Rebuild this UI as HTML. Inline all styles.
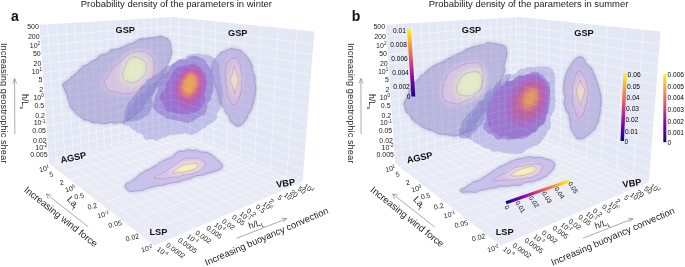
<!DOCTYPE html>
<html><head><meta charset="utf-8"><style>
html,body{margin:0;padding:0;background:#fff;width:685px;height:267px;overflow:hidden}
svg{display:block;font-family:"Liberation Sans",sans-serif;will-change:transform}
</style></head><body>
<svg width="685" height="267" viewBox="0 0 685 267">
<defs><filter id="bl05" x="-10%" y="-10%" width="120%" height="120%"><feGaussianBlur stdDeviation="0.45"/></filter><filter id="fb6" x="-40%" y="-40%" width="180%" height="180%"><feGaussianBlur stdDeviation="0.6"/></filter><filter id="fb10" x="-40%" y="-40%" width="180%" height="180%"><feGaussianBlur stdDeviation="1.0"/></filter><filter id="fb12" x="-40%" y="-40%" width="180%" height="180%"><feGaussianBlur stdDeviation="1.2"/></filter><filter id="fb16" x="-40%" y="-40%" width="180%" height="180%"><feGaussianBlur stdDeviation="1.6"/></filter><filter id="fb20" x="-40%" y="-40%" width="180%" height="180%"><feGaussianBlur stdDeviation="2.0"/></filter><filter id="fb22" x="-40%" y="-40%" width="180%" height="180%"><feGaussianBlur stdDeviation="2.2"/></filter><filter id="fb25" x="-40%" y="-40%" width="180%" height="180%"><feGaussianBlur stdDeviation="2.5"/></filter><filter id="fb30" x="-40%" y="-40%" width="180%" height="180%"><feGaussianBlur stdDeviation="3.0"/></filter><filter id="bl1" x="-30%" y="-30%" width="160%" height="160%"><feGaussianBlur stdDeviation="1.2"/></filter><radialGradient id="gA" cx="0.55" cy="0.45" r="0.55"><stop offset="0" stop-color="#eaa04e"/><stop offset="0.25" stop-color="#e08a5e"/><stop offset="0.45" stop-color="#c862a8"/><stop offset="0.7" stop-color="#a974cc"/><stop offset="1" stop-color="#9f8ad8"/></radialGradient><radialGradient id="gB" cx="0.6" cy="0.5" r="0.55"><stop offset="0" stop-color="#e99a52"/><stop offset="0.25" stop-color="#dc8068"/><stop offset="0.45" stop-color="#c762aa"/><stop offset="0.7" stop-color="#a875cc"/><stop offset="1" stop-color="#9f8cd8"/></radialGradient><linearGradient id="cbv" x1="0" y1="1" x2="0" y2="0"><stop offset="0.000" stop-color="#0d0887"/><stop offset="0.111" stop-color="#46039f"/><stop offset="0.222" stop-color="#7201a8"/><stop offset="0.333" stop-color="#9c179e"/><stop offset="0.444" stop-color="#bd3786"/><stop offset="0.556" stop-color="#d8576b"/><stop offset="0.667" stop-color="#ed7953"/><stop offset="0.778" stop-color="#fb9f3a"/><stop offset="0.889" stop-color="#fdca26"/><stop offset="1.000" stop-color="#f0f921"/></linearGradient><linearGradient id="cbh" x1="0" y1="0" x2="1" y2="0"><stop offset="0.000" stop-color="#0d0887"/><stop offset="0.111" stop-color="#46039f"/><stop offset="0.222" stop-color="#7201a8"/><stop offset="0.333" stop-color="#9c179e"/><stop offset="0.444" stop-color="#bd3786"/><stop offset="0.556" stop-color="#d8576b"/><stop offset="0.667" stop-color="#ed7953"/><stop offset="0.778" stop-color="#fb9f3a"/><stop offset="0.889" stop-color="#fdca26"/><stop offset="1.000" stop-color="#f0f921"/></linearGradient><clipPath id="cl1"><path d="M63.0,84.2 L63.9,83.6 L64.5,82.7 L65.8,82.2 L66.8,81.3 L67.9,80.2 L69.3,79.3 L70.6,78.3 L71.1,77.1 L72.2,76.5 L73.3,75.8 L74.4,75.1 L75.2,74.0 L76.3,73.2 L77.2,72.1 L78.4,71.4 L79.0,70.0 L80.1,69.2 L81.2,68.5 L81.9,67.4 L82.7,66.4 L84.1,66.1 L85.1,65.5 L86.4,65.1 L87.5,64.6 L88.5,64.0 L89.5,63.2 L90.4,62.2 L91.4,61.4 L92.6,60.7 L93.8,60.5 L94.8,59.9 L96.0,59.7 L96.7,58.5 L97.7,57.7 L98.6,56.7 L99.5,55.9 L100.5,55.1 L101.7,54.7 L103.1,54.6 L104.3,54.3 L105.7,54.3 L106.7,53.7 L107.6,52.8 L108.7,52.1 L109.8,51.4 L110.7,50.2 L111.9,49.7 L113.2,49.8 L114.4,49.3 L115.5,48.9 L116.9,48.9 L118.1,48.9 L119.3,48.4 L120.4,48.0 L121.4,47.4 L122.5,46.9 L123.8,46.5 L125.1,46.1 L126.1,45.2 L127.3,45.0 L128.5,44.5 L129.6,43.8 L130.8,43.5 L132.1,43.4 L133.4,43.1 L134.4,42.1 L135.7,41.5 L136.7,40.9 L137.8,40.2 L138.8,39.3 L140.1,39.3 L141.3,38.9 L142.6,38.4 L143.9,38.5 L145.4,38.9 L146.6,38.5 L147.8,38.1 L149.1,38.0 L150.3,37.9 L151.4,37.4 L152.5,37.6 L154.0,37.7 L155.5,37.4 L156.9,36.7 L158.4,36.5 L159.8,36.2 L161.2,36.1 L162.4,36.5 L163.6,37.1 L164.6,37.7 L165.6,38.2 L166.9,38.6 L168.1,39.3 L168.9,40.4 L169.8,41.5 L170.3,42.8 L170.4,44.3 L170.7,45.6 L170.8,47.0 L171.1,47.9 L171.2,49.0 L171.4,50.2 L171.3,51.4 L171.8,52.7 L171.4,54.0 L171.2,55.2 L170.7,56.5 L170.5,57.8 L170.0,58.9 L169.5,60.0 L169.2,61.3 L168.7,62.5 L167.9,63.5 L167.2,64.5 L167.3,65.9 L166.6,67.0 L165.8,68.1 L165.4,69.4 L164.9,70.8 L163.9,71.9 L163.6,73.1 L163.4,74.3 L162.8,75.4 L162.5,76.6 L162.0,77.8 L161.2,78.8 L160.4,79.9 L159.7,81.0 L158.9,82.2 L158.0,83.2 L157.2,84.3 L156.7,85.4 L155.9,86.5 L154.8,87.3 L154.5,88.5 L154.0,89.7 L153.4,90.8 L152.9,91.9 L152.3,93.0 L151.3,93.8 L150.6,94.9 L149.7,95.8 L148.9,96.7 L148.4,97.8 L147.6,98.7 L146.9,99.7 L145.9,100.5 L145.3,101.5 L144.7,102.6 L144.4,104.0 L143.9,105.2 L143.2,106.3 L142.5,107.4 L141.8,108.4 L141.0,109.4 L139.8,109.9 L139.3,111.1 L138.8,112.2 L137.6,112.6 L136.8,113.3 L136.4,114.4 L135.1,115.3 L133.8,116.1 L132.9,117.1 L131.7,117.7 L130.5,118.1 L129.6,119.0 L128.6,119.5 L127.9,120.4 L126.7,121.0 L125.6,121.5 L124.6,122.0 L123.4,122.4 L122.2,122.0 L121.0,122.6 L119.7,122.6 L118.4,122.6 L117.1,122.6 L115.7,123.2 L114.2,123.1 L112.7,122.8 L111.5,122.5 L110.2,122.7 L108.9,122.5 L107.6,122.9 L106.4,123.5 L105.0,123.7 L103.7,123.8 L102.4,123.7 L101.1,123.0 L99.8,123.3 L98.5,122.9 L97.2,122.7 L95.8,123.0 L94.5,123.3 L93.4,122.2 L92.0,122.6 L90.9,121.9 L89.8,121.0 L88.6,120.5 L87.3,120.5 L86.2,119.9 L84.9,119.9 L83.8,119.5 L82.6,119.0 L81.8,118.0 L80.8,117.3 L79.9,116.6 L78.9,115.8 L77.8,115.1 L76.8,114.3 L75.9,113.3 L75.0,112.2 L74.1,111.2 L73.2,110.1 L72.2,109.1 L71.1,108.3 L70.5,107.1 L69.9,105.9 L69.8,104.6 L69.4,103.4 L69.2,102.2 L68.9,100.9 L68.4,99.6 L67.7,98.6 L67.4,97.3 L67.3,95.9 L66.6,94.7 L66.2,93.5 L66.0,92.2 L65.4,91.2 L64.7,90.3 L64.4,88.9 L63.8,87.7 L63.1,86.6 L62.9,85.4Z"/></clipPath><clipPath id="cl2"><path d="M233.6,49.3 L234.7,49.3 L235.8,49.4 L236.9,49.8 L238.2,49.7 L239.4,50.3 L240.6,50.8 L241.8,51.4 L242.9,52.3 L243.9,53.4 L244.7,54.1 L245.4,54.9 L246.0,56.0 L246.8,56.9 L247.5,57.8 L248.6,58.7 L249.0,59.9 L249.9,60.9 L250.5,62.1 L251.1,63.2 L251.3,64.6 L252.3,65.6 L252.0,67.1 L252.4,68.2 L252.3,69.4 L252.6,70.6 L252.5,71.9 L253.3,72.9 L253.9,74.1 L254.8,75.1 L254.4,76.5 L254.7,77.7 L255.1,78.9 L255.1,80.2 L254.7,81.4 L255.1,82.6 L255.0,83.8 L255.2,85.0 L255.5,86.2 L255.6,87.4 L255.7,88.6 L255.9,89.8 L255.5,91.0 L255.3,92.2 L255.2,93.4 L255.1,94.7 L254.9,95.9 L254.5,97.0 L254.3,98.3 L254.3,99.5 L253.9,100.7 L253.6,101.8 L253.3,103.0 L253.0,104.2 L252.5,105.4 L252.3,106.7 L252.0,108.0 L251.7,109.2 L250.8,110.3 L250.0,111.3 L249.5,112.4 L248.7,113.4 L248.3,114.5 L247.8,115.5 L247.6,116.6 L247.3,117.6 L246.4,119.0 L245.2,120.1 L244.5,121.5 L243.6,122.7 L242.4,123.5 L241.3,124.2 L240.6,125.2 L239.7,125.9 L238.6,125.6 L237.5,126.0 L236.4,126.1 L235.5,125.5 L234.6,124.5 L233.5,123.6 L232.3,122.3 L231.4,121.9 L230.6,121.3 L230.2,120.2 L229.6,119.2 L229.3,118.0 L229.2,116.6 L228.3,115.7 L227.4,114.7 L226.6,113.6 L226.0,112.4 L225.2,111.3 L225.0,109.9 L224.6,108.6 L223.5,107.9 L223.0,106.9 L222.4,105.8 L221.8,104.7 L220.8,103.8 L220.4,102.6 L220.0,101.4 L219.3,100.3 L218.9,99.1 L218.7,97.8 L218.6,96.5 L218.3,95.2 L218.2,93.9 L217.8,92.8 L217.8,91.5 L217.2,90.5 L216.6,89.3 L216.1,88.0 L215.7,86.7 L215.1,85.5 L215.0,84.1 L214.4,82.9 L214.1,81.6 L214.0,80.3 L213.4,79.1 L213.1,78.0 L213.0,76.8 L212.3,75.8 L211.7,74.8 L211.5,73.7 L211.5,72.2 L211.4,70.7 L211.8,69.3 L212.1,68.0 L212.3,66.7 L212.2,65.4 L213.0,64.4 L213.5,63.3 L213.7,62.1 L214.3,60.9 L215.2,60.1 L215.7,58.8 L216.7,57.9 L217.3,56.6 L218.5,55.8 L219.3,54.6 L220.3,53.7 L221.2,52.4 L222.5,52.1 L223.7,51.5 L224.9,50.9 L226.2,50.3 L227.4,49.6 L228.8,49.3 L230.0,48.9 L231.3,48.5 L232.4,48.0Z"/></clipPath><clipPath id="cl3"><path d="M125.0,185.3 L125.4,184.6 L126.1,183.8 L127.3,183.3 L128.7,182.7 L130.1,181.9 L131.6,181.2 L132.5,180.6 L133.4,179.7 L134.4,179.1 L135.6,178.5 L136.4,177.4 L137.4,176.5 L138.4,175.6 L139.4,174.7 L140.5,173.8 L141.6,173.3 L142.8,172.8 L143.8,171.9 L145.0,171.4 L146.0,170.5 L147.2,170.1 L148.4,169.4 L149.8,169.2 L150.8,168.4 L152.0,167.8 L152.9,166.9 L154.1,166.5 L155.1,165.6 L156.3,165.3 L157.4,164.6 L158.4,163.8 L159.3,162.8 L160.4,162.3 L161.5,161.8 L162.6,161.0 L163.9,160.6 L165.0,160.0 L166.4,159.6 L167.5,158.7 L169.1,158.6 L170.3,157.9 L171.5,157.4 L172.5,156.6 L173.4,155.8 L174.1,155.0 L175.4,154.0 L176.4,153.2 L177.1,152.2 L178.3,151.8 L179.7,151.1 L180.9,151.2 L182.0,151.2 L183.2,151.3 L184.4,151.1 L185.7,150.7 L187.0,149.8 L188.4,149.9 L189.7,150.1 L191.1,150.1 L192.3,150.3 L193.6,150.6 L194.9,150.2 L196.3,150.3 L197.7,150.5 L199.0,151.3 L200.2,151.9 L201.5,152.1 L202.8,151.9 L204.0,152.3 L205.3,152.3 L206.8,152.3 L208.0,152.9 L209.1,153.7 L210.5,154.1 L211.7,154.8 L212.7,155.7 L213.7,156.6 L214.6,157.3 L215.5,158.1 L216.5,159.3 L217.8,160.3 L219.0,161.2 L220.1,162.2 L221.1,163.2 L222.0,164.2 L222.3,165.5 L222.2,167.0 L221.3,168.3 L220.3,169.4 L218.9,170.0 L217.4,170.5 L216.4,170.7 L215.5,171.2 L214.3,171.2 L213.2,171.8 L212.0,172.2 L210.7,172.3 L209.4,172.7 L208.0,173.2 L206.9,173.3 L205.8,173.6 L204.8,174.3 L203.7,174.9 L202.4,175.0 L201.1,175.1 L199.8,175.4 L198.5,175.6 L197.1,175.4 L196.0,175.9 L194.8,176.4 L193.6,176.9 L192.5,177.3 L191.4,177.9 L190.3,178.4 L189.1,178.8 L187.9,178.9 L186.7,179.3 L185.6,179.8 L184.3,179.9 L183.0,180.2 L181.8,180.7 L180.7,181.1 L179.5,181.6 L178.3,181.9 L177.1,182.4 L175.8,182.5 L174.4,182.5 L173.1,182.4 L171.8,182.9 L170.5,183.0 L169.2,183.3 L168.0,183.7 L166.8,184.2 L165.5,184.2 L164.3,184.8 L163.0,185.0 L161.7,185.5 L160.4,185.5 L159.1,185.5 L157.8,185.7 L156.6,186.2 L155.2,186.1 L154.0,186.5 L152.9,187.1 L151.7,187.1 L150.4,187.3 L149.1,187.7 L147.9,188.1 L146.7,188.7 L145.5,189.0 L144.3,189.4 L143.2,190.2 L142.1,190.5 L140.9,190.5 L139.8,190.7 L138.7,191.0 L137.2,190.9 L135.8,191.1 L134.3,191.1 L133.0,191.5 L131.7,191.4 L130.4,191.5 L129.4,191.0 L128.5,190.8 L127.3,189.8 L126.4,188.7 L125.8,187.4 L125.1,186.3Z"/></clipPath><clipPath id="cl4"><path d="M504.2,45.8 L503.5,45.4 L502.5,45.2 L501.5,44.9 L500.5,44.4 L499.4,44.1 L498.2,44.0 L496.9,43.7 L495.6,43.3 L494.2,43.6 L492.7,43.6 L491.2,43.1 L489.7,42.5 L488.6,42.8 L487.5,42.9 L486.4,43.2 L485.3,44.0 L484.2,44.4 L483.0,44.7 L481.7,44.9 L480.4,45.0 L479.1,45.1 L477.9,45.9 L476.5,45.9 L475.2,46.2 L473.8,46.2 L472.7,47.2 L471.4,47.3 L470.2,47.9 L469.0,48.3 L468.0,49.1 L466.7,49.0 L465.7,49.8 L464.7,50.5 L463.7,51.3 L462.6,51.8 L461.6,52.4 L460.5,53.1 L459.4,53.5 L458.3,54.1 L457.1,54.4 L456.0,55.0 L454.9,55.4 L453.9,56.2 L452.5,56.2 L451.7,57.1 L450.5,57.6 L449.5,58.1 L448.2,58.2 L447.4,59.4 L446.3,60.1 L445.2,60.8 L443.9,61.3 L442.8,62.0 L441.6,62.5 L440.4,62.9 L439.2,63.4 L437.9,63.7 L436.9,64.6 L435.7,64.9 L434.6,65.5 L433.5,66.0 L432.6,67.0 L431.3,67.1 L430.6,68.1 L429.6,68.5 L428.4,69.3 L427.3,70.2 L426.6,71.4 L425.6,72.2 L424.7,73.2 L423.8,74.0 L422.8,74.7 L421.8,75.3 L420.8,75.9 L420.1,76.9 L419.4,77.9 L418.6,78.8 L417.7,79.5 L416.8,80.5 L415.9,81.4 L415.1,82.5 L414.3,83.5 L413.5,84.5 L412.7,85.5 L411.9,86.6 L410.8,87.4 L410.3,88.5 L409.9,89.8 L409.4,90.9 L408.7,91.9 L408.6,93.4 L407.7,94.5 L407.5,95.9 L407.0,97.2 L406.3,98.4 L405.8,99.7 L405.4,100.8 L404.6,101.8 L404.2,102.9 L404.3,104.0 L404.1,105.5 L404.6,106.8 L405.2,107.9 L405.6,109.0 L405.8,110.1 L406.1,111.2 L406.6,112.4 L407.4,113.4 L408.5,114.0 L409.3,114.9 L410.3,115.8 L410.9,116.8 L411.5,117.9 L412.0,119.1 L413.0,119.9 L413.9,120.8 L414.7,121.8 L415.8,122.5 L416.9,123.1 L418.1,123.6 L419.1,124.4 L420.1,125.1 L421.1,125.9 L422.0,126.9 L423.1,127.5 L424.2,128.1 L425.5,128.3 L426.6,129.0 L427.9,129.4 L429.0,130.0 L430.3,129.9 L431.4,130.5 L432.7,130.5 L433.7,131.3 L434.8,132.0 L435.7,132.9 L436.7,133.3 L437.7,133.7 L439.1,133.6 L440.5,134.1 L442.4,134.2 L443.3,134.5 L444.5,134.4 L445.6,134.7 L447.0,134.6 L448.3,135.0 L449.7,135.0 L451.0,135.7 L452.4,136.1 L453.8,136.1 L455.1,136.1 L456.5,135.9 L457.7,135.8 L458.8,135.3 L460.1,135.4 L461.0,134.4 L462.2,134.3 L463.3,133.9 L464.4,133.3 L465.2,132.3 L466.7,132.5 L467.9,131.9 L469.1,131.2 L470.4,130.7 L471.8,130.0 L472.8,128.8 L473.2,127.7 L473.5,126.5 L474.2,125.6 L474.7,124.5 L475.2,123.4 L475.9,122.4 L476.8,121.5 L477.6,120.5 L478.3,119.4 L478.9,118.3 L480.0,117.4 L480.3,116.1 L480.6,114.7 L481.5,113.7 L482.8,113.0 L483.5,111.9 L484.6,111.2 L485.5,110.3 L486.5,109.4 L486.4,107.9 L486.6,106.5 L487.3,105.4 L488.5,104.7 L488.9,103.4 L489.9,102.6 L490.8,101.7 L491.2,100.5 L491.5,99.2 L492.5,98.4 L493.1,97.3 L493.8,96.3 L494.6,95.3 L495.1,94.2 L495.2,92.9 L495.9,92.0 L496.9,91.0 L497.3,89.8 L498.2,88.9 L498.4,87.6 L499.0,86.6 L499.2,85.3 L499.9,84.3 L499.9,83.0 L500.7,82.0 L500.8,80.7 L501.5,79.7 L502.1,78.6 L502.6,77.6 L503.0,76.4 L503.7,75.4 L504.0,74.3 L504.4,73.1 L504.6,71.8 L504.9,70.5 L504.9,69.1 L504.4,67.7 L504.2,66.3 L504.4,65.1 L504.4,63.8 L504.6,62.5 L505.5,61.4 L505.5,60.2 L505.4,59.1 L506.3,58.1 L506.4,57.0 L506.4,56.0 L506.8,54.3 L506.9,52.7 L506.4,51.2 L506.2,49.9 L506.1,48.6 L505.7,47.5 L505.2,46.5Z"/></clipPath><clipPath id="cl5"><path d="M579.7,56.9 L581.0,56.7 L582.1,57.4 L583.1,58.3 L584.0,59.3 L584.8,60.6 L585.4,62.2 L586.4,63.4 L587.5,64.7 L588.2,65.5 L589.3,66.1 L590.3,66.9 L591.1,67.9 L591.7,69.0 L592.4,70.2 L592.9,71.4 L593.3,72.8 L594.0,73.9 L594.4,75.2 L594.9,76.5 L595.5,77.6 L595.8,78.9 L596.2,80.1 L596.7,81.1 L597.1,82.2 L597.4,83.4 L597.9,84.6 L598.1,85.8 L598.5,86.9 L598.9,88.1 L599.3,89.2 L599.5,90.4 L599.9,91.6 L600.2,92.8 L600.3,94.0 L600.5,95.2 L600.8,96.4 L600.8,97.7 L600.7,99.0 L601.2,100.3 L601.1,101.6 L601.0,102.9 L600.9,104.2 L601.2,105.5 L600.5,106.8 L600.1,108.0 L600.4,109.3 L600.4,110.5 L599.9,111.7 L600.0,113.0 L600.0,114.3 L599.3,115.5 L599.2,116.8 L598.9,118.1 L598.5,119.3 L598.3,120.5 L598.3,121.8 L597.7,122.9 L597.0,123.9 L596.6,125.0 L596.0,125.9 L595.4,127.1 L594.7,128.2 L594.4,129.5 L593.5,130.4 L592.5,131.2 L591.5,131.9 L590.7,132.8 L589.6,133.3 L588.7,134.0 L588.1,135.2 L587.0,135.9 L585.9,136.8 L584.7,137.6 L583.3,138.1 L581.9,138.3 L580.7,138.7 L579.5,138.8 L578.5,138.7 L577.7,138.6 L576.9,138.2 L576.2,137.5 L575.7,136.5 L575.0,135.4 L573.9,134.3 L573.1,133.0 L572.6,131.5 L571.8,130.1 L571.1,129.2 L570.9,128.1 L570.6,127.0 L570.4,125.9 L570.4,124.7 L570.4,123.5 L570.2,122.3 L570.1,121.0 L569.8,119.7 L569.2,118.5 L569.2,117.0 L569.2,115.5 L568.7,114.5 L568.1,113.5 L567.7,112.4 L566.9,111.3 L566.0,110.2 L565.6,109.0 L565.4,107.7 L564.9,106.5 L564.5,105.2 L564.3,103.9 L564.3,102.5 L564.0,101.3 L564.5,99.9 L564.7,98.6 L565.1,97.4 L564.9,96.2 L564.7,95.1 L564.3,93.8 L563.9,92.4 L563.4,91.1 L563.3,89.8 L563.6,88.5 L563.6,87.2 L564.0,86.0 L563.9,84.7 L563.8,83.5 L563.9,82.2 L564.4,81.1 L564.5,79.9 L564.8,78.7 L565.3,77.5 L565.6,76.3 L565.7,75.0 L565.9,73.7 L567.1,72.7 L567.4,71.5 L567.8,70.3 L568.4,69.2 L569.2,68.2 L569.3,66.9 L570.0,66.0 L570.9,65.3 L571.4,64.4 L572.2,63.2 L572.9,61.9 L573.8,60.8 L574.6,59.6 L575.6,58.8 L576.6,58.0 L577.7,57.6 L578.7,57.3Z"/></clipPath><clipPath id="cl6"><path d="M461.2,189.3 L462.0,189.1 L462.9,188.9 L463.6,188.3 L464.7,187.8 L465.9,187.4 L466.8,186.4 L467.9,185.4 L469.2,184.8 L470.4,184.1 L471.7,183.5 L472.5,182.7 L473.5,182.0 L474.6,181.5 L475.9,181.5 L477.1,181.0 L478.2,180.4 L479.6,180.2 L480.6,179.3 L481.6,178.5 L482.7,177.8 L483.9,177.4 L484.9,176.6 L486.1,176.2 L487.1,175.5 L488.1,174.6 L489.1,173.8 L490.1,173.2 L491.1,172.5 L492.1,171.7 L493.1,171.0 L494.4,170.7 L495.4,170.1 L496.2,169.2 L497.2,168.3 L498.3,167.9 L499.3,167.2 L500.3,166.4 L501.5,166.2 L502.6,165.9 L503.7,165.2 L504.7,164.5 L505.9,164.3 L506.9,163.4 L508.1,163.1 L509.1,162.3 L510.1,161.7 L511.3,161.2 L512.4,160.9 L513.5,160.3 L514.8,160.0 L516.0,159.5 L517.2,159.3 L518.4,158.8 L519.7,158.6 L521.0,158.6 L522.2,158.2 L523.3,157.7 L524.6,157.7 L525.8,157.5 L526.9,157.0 L528.2,156.7 L529.4,156.7 L530.7,156.9 L532.0,157.0 L533.2,157.1 L534.5,157.5 L535.7,157.7 L537.0,157.4 L538.2,157.2 L539.3,157.5 L540.5,157.5 L541.5,157.6 L543.0,158.1 L544.5,158.6 L545.9,159.0 L547.2,159.3 L548.5,159.6 L549.7,159.9 L550.8,160.2 L551.8,160.4 L552.8,161.4 L553.6,162.4 L554.2,163.4 L554.7,164.4 L554.4,165.6 L554.3,166.6 L554.1,167.8 L553.4,169.0 L552.2,170.0 L551.4,171.3 L550.1,172.2 L549.4,173.0 L548.7,173.8 L547.9,174.5 L547.0,175.3 L546.2,176.3 L545.0,176.7 L543.8,177.2 L542.7,178.1 L541.3,178.6 L540.4,178.9 L539.4,179.3 L538.4,179.6 L537.2,179.9 L536.1,180.2 L535.1,181.1 L533.8,181.3 L532.7,181.8 L531.4,181.9 L530.1,182.1 L528.7,181.8 L527.4,182.1 L526.1,182.1 L524.9,182.6 L523.8,183.2 L522.7,183.8 L521.6,184.5 L520.3,184.8 L519.2,185.4 L518.0,185.7 L516.6,185.4 L515.3,185.1 L514.0,185.3 L512.8,185.5 L511.5,185.3 L510.2,185.6 L509.0,186.2 L507.8,186.3 L506.5,186.1 L505.3,186.5 L504.0,186.8 L502.6,186.2 L501.3,186.2 L500.1,186.6 L498.7,186.4 L497.5,186.8 L496.3,187.5 L495.1,188.0 L493.8,188.1 L492.6,188.2 L491.3,188.1 L490.1,188.1 L489.0,188.3 L487.9,188.7 L486.6,189.3 L485.3,189.7 L483.9,189.9 L482.6,190.1 L481.3,190.0 L480.1,190.3 L478.9,190.7 L477.9,191.6 L476.8,192.0 L475.7,192.3 L474.5,192.2 L473.5,192.3 L471.9,192.2 L470.4,191.9 L469.0,191.9 L467.6,192.1 L466.3,192.0 L465.1,192.0 L464.1,192.2 L463.1,192.3 L460.6,191.3Z"/></clipPath><g id="frame" fill="#222"><path d="M39.50,24.70 L173.00,17.00 L173.94,130.64 L49.00,163.50Z" fill="#e4e8f5"/>
<path d="M173.00,17.00 L314.30,31.50 L302.50,182.00 L173.94,130.64Z" fill="#e4e8f5"/>
<path d="M49.00,163.50 L173.94,130.64 L302.50,182.00 L154.30,245.60Z" fill="#e8ebf6"/>
<path d="M56.42,161.55L47.52,24.24M64.97,159.30L56.75,23.71M73.30,157.11L65.72,23.19M81.43,154.97L74.47,22.68M89.36,152.88L82.98,22.19M97.09,150.85L91.27,21.71M104.64,148.86L99.36,21.25M112.01,146.93L107.24,20.79M119.21,145.03L114.92,20.35M126.24,143.18L122.42,19.92M133.12,141.37L129.73,19.50M139.83,139.61L136.88,19.08M146.40,137.88L143.85,18.68M152.82,136.19L150.66,18.29M159.10,134.54L157.31,17.90M165.25,132.92L163.81,17.53M171.26,131.34L170.17,17.16M173.08,26.18L40.28,36.04M173.14,33.76L40.92,45.38M173.20,41.28L41.55,54.64M173.26,48.75L42.18,63.82M173.33,56.17L42.80,72.93M173.39,63.54L43.42,81.96M173.45,70.87L44.03,90.92M173.51,78.14L44.64,99.80M173.57,85.36L45.24,108.61M173.63,92.54L45.84,117.35M173.69,99.67L46.43,126.01M173.74,106.75L47.02,134.61M173.80,113.79L47.61,143.13M173.86,120.78L48.18,151.59M173.92,127.72L48.76,159.98M179.21,132.74L178.65,17.58M190.05,137.07L190.31,18.78M201.50,141.65L202.69,20.05M213.64,146.50L215.87,21.40M226.52,151.64L229.92,22.84M240.21,157.11L244.94,24.38M254.78,162.93L261.02,26.03M270.34,169.15L278.28,27.80M286.98,175.80L296.85,29.71M173.08,26.18L313.31,44.17M173.14,33.76L312.49,54.55M173.20,41.28L311.69,64.80M173.26,48.75L310.90,74.92M173.33,56.17L310.11,84.91M173.39,63.54L309.34,94.78M173.45,70.87L308.57,104.52M173.51,78.14L307.82,114.14M173.57,85.36L307.08,123.64M173.63,92.54L306.34,133.03M173.69,99.67L305.61,142.31M173.74,106.75L304.89,151.47M173.80,113.79L304.18,160.52M173.86,120.78L303.48,169.46M173.92,127.72L302.79,178.30M179.21,132.74L52.90,166.54M190.05,137.07L61.03,172.88M201.50,141.65L69.78,179.70M213.64,146.50L79.21,187.06M226.52,151.64L89.43,195.02M240.21,157.11L100.52,203.67M254.78,162.93L112.61,213.10M270.34,169.15L125.84,223.41M286.98,175.80L140.37,234.74M56.42,161.55L163.53,241.64M64.97,159.30L174.09,237.11M73.30,157.11L184.32,232.72M81.43,154.97L194.22,228.47M89.36,152.88L203.82,224.35M97.09,150.85L213.12,220.36M104.64,148.86L222.15,216.48M112.01,146.93L230.91,212.72M119.21,145.03L239.41,209.07M126.24,143.18L247.67,205.53M133.12,141.37L255.70,202.08M139.83,139.61L263.51,198.73M146.40,137.88L271.09,195.48M152.82,136.19L278.48,192.31M159.10,134.54L285.66,189.23M165.25,132.92L292.66,186.22M171.26,131.34L299.47,183.30" stroke="#fff" stroke-width="0.65" fill="none" opacity="0.6"/>
<text x="38.85" y="28.64" text-anchor="end" font-size="7.0">500</text>
<text x="39.59" y="39.46" text-anchor="end" font-size="7.0">200</text>
<text x="40.15" y="47.58" text-anchor="end" font-size="7.0">10<tspan dy="-2.66" font-size="4.55">2</tspan></text>
<text x="40.70" y="55.63" text-anchor="end" font-size="7.0">50</text>
<text x="41.42" y="66.19" text-anchor="end" font-size="7.0">20</text>
<text x="41.97" y="74.11" text-anchor="end" font-size="7.0">10<tspan dy="-2.66" font-size="4.55">1</tspan></text>
<text x="42.50" y="81.97" text-anchor="end" font-size="7.0">5</text>
<text x="43.21" y="92.28" text-anchor="end" font-size="7.0">2</text>
<text x="43.74" y="100.01" text-anchor="end" font-size="7.0">10<tspan dy="-2.66" font-size="4.55">0</tspan></text>
<text x="44.26" y="107.69" text-anchor="end" font-size="7.0">0.5</text>
<text x="44.95" y="117.75" text-anchor="end" font-size="7.0">0.2</text>
<text x="45.47" y="125.30" text-anchor="end" font-size="7.0">10<tspan dy="-2.66" font-size="4.55">-1</tspan></text>
<text x="45.98" y="132.80" text-anchor="end" font-size="7.0">0.05</text>
<text x="46.66" y="142.63" text-anchor="end" font-size="7.0">0.02</text>
<text x="47.16" y="150.00" text-anchor="end" font-size="7.0">10<tspan dy="-2.66" font-size="4.55">-2</tspan></text>
<text x="47.66" y="157.33" text-anchor="end" font-size="7.0">0.005</text>
<text transform="translate(44.06,168.57) rotate(-14)" x="0" y="2.5" text-anchor="middle" font-size="7.0">10<tspan dy="-2.66" font-size="4.55">1</tspan></text>
<text transform="translate(51.29,174.21) rotate(-14)" x="0" y="2.5" text-anchor="middle" font-size="7.0">5</text>
<text transform="translate(61.61,182.26) rotate(-14)" x="0" y="2.5" text-anchor="middle" font-size="7.0">2</text>
<text transform="translate(70.08,188.86) rotate(-14)" x="0" y="2.5" text-anchor="middle" font-size="7.0">10<tspan dy="-2.66" font-size="4.55">0</tspan></text>
<text transform="translate(79.19,195.96) rotate(-14)" x="0" y="2.5" text-anchor="middle" font-size="7.0">0.5</text>
<text transform="translate(92.32,206.20) rotate(-14)" x="0" y="2.5" text-anchor="middle" font-size="7.0">0.2</text>
<text transform="translate(103.21,214.69) rotate(-14)" x="0" y="2.5" text-anchor="middle" font-size="7.0">10<tspan dy="-2.66" font-size="4.55">-1</tspan></text>
<text transform="translate(115.03,223.91) rotate(-14)" x="0" y="2.5" text-anchor="middle" font-size="7.0">0.05</text>
<text transform="translate(132.31,237.38) rotate(-14)" x="0" y="2.5" text-anchor="middle" font-size="7.0">0.02</text>
<text transform="translate(146.82,248.69) rotate(-14)" x="0" y="2.5" text-anchor="middle" font-size="7.0">10<tspan dy="-2.66" font-size="4.55">-2</tspan></text>
<text transform="translate(156.25,250.32) rotate(36)" x="0" y="0" text-anchor="start" font-size="7.0">10<tspan dy="-2.66" font-size="4.55">-4</tspan></text>
<text transform="translate(165.61,246.30) rotate(36)" x="0" y="0" text-anchor="start" font-size="7.0">0.0002</text>
<text transform="translate(177.58,241.17) rotate(36)" x="0" y="0" text-anchor="start" font-size="7.0">0.0005</text>
<text transform="translate(186.34,237.40) rotate(36)" x="0" y="0" text-anchor="start" font-size="7.0">10<tspan dy="-2.66" font-size="4.55">-3</tspan></text>
<text transform="translate(194.86,233.75) rotate(36)" x="0" y="0" text-anchor="start" font-size="7.0">0.002</text>
<text transform="translate(205.78,229.06) rotate(36)" x="0" y="0" text-anchor="start" font-size="7.0">0.005</text>
<text transform="translate(213.78,225.63) rotate(36)" x="0" y="0" text-anchor="start" font-size="7.0">10<tspan dy="-2.66" font-size="4.55">-2</tspan></text>
<text transform="translate(221.58,222.28) rotate(36)" x="0" y="0" text-anchor="start" font-size="7.0">0.02</text>
<text transform="translate(231.57,217.99) rotate(36)" x="0" y="0" text-anchor="start" font-size="7.0">0.05</text>
<text transform="translate(238.91,214.84) rotate(36)" x="0" y="0" text-anchor="start" font-size="7.0">10<tspan dy="-2.66" font-size="4.55">-1</tspan></text>
<text transform="translate(246.07,211.77) rotate(36)" x="0" y="0" text-anchor="start" font-size="7.0">0.2</text>
<text transform="translate(255.26,207.83) rotate(36)" x="0" y="0" text-anchor="start" font-size="7.0">0.5</text>
<text transform="translate(262.01,204.93) rotate(36)" x="0" y="0" text-anchor="start" font-size="7.0">10<tspan dy="-2.66" font-size="4.55">0</tspan></text>
<text transform="translate(268.60,202.10) rotate(36)" x="0" y="0" text-anchor="start" font-size="7.0">2</text>
<text transform="translate(277.08,198.46) rotate(36)" x="0" y="0" text-anchor="start" font-size="7.0">5</text>
<text transform="translate(283.31,195.79) rotate(36)" x="0" y="0" text-anchor="start" font-size="7.0">10<tspan dy="-2.66" font-size="4.55">1</tspan></text>
<text transform="translate(289.41,193.17) rotate(36)" x="0" y="0" text-anchor="start" font-size="7.0">20</text>
<text transform="translate(297.25,189.81) rotate(36)" x="0" y="0" text-anchor="start" font-size="7.0">50</text>
<text transform="translate(303.02,187.33) rotate(36)" x="0" y="0" text-anchor="start" font-size="7.0">10<tspan dy="-2.66" font-size="4.55">2</tspan></text></g></defs>
<rect width="685" height="267" fill="#fff"/>
<text x="11" y="21.3" font-size="14" font-weight="bold" fill="#111">a</text>
<text x="351.8" y="21.3" font-size="14" font-weight="bold" fill="#111">b</text>
<text x="80.7" y="6.8" font-size="9.46" fill="#222">Probability density of the parameters in winter</text>
<text x="428.8" y="7.3" font-size="9.44" fill="#222">Probability density of the parameters in summer</text>
<use href="#frame"/>
<use href="#frame" transform="translate(346.3,0)"/>
<path d="M63.0,84.2 L63.9,83.6 L64.5,82.7 L65.8,82.2 L66.8,81.3 L67.9,80.2 L69.3,79.3 L70.6,78.3 L71.1,77.1 L72.2,76.5 L73.3,75.8 L74.4,75.1 L75.2,74.0 L76.3,73.2 L77.2,72.1 L78.4,71.4 L79.0,70.0 L80.1,69.2 L81.2,68.5 L81.9,67.4 L82.7,66.4 L84.1,66.1 L85.1,65.5 L86.4,65.1 L87.5,64.6 L88.5,64.0 L89.5,63.2 L90.4,62.2 L91.4,61.4 L92.6,60.7 L93.8,60.5 L94.8,59.9 L96.0,59.7 L96.7,58.5 L97.7,57.7 L98.6,56.7 L99.5,55.9 L100.5,55.1 L101.7,54.7 L103.1,54.6 L104.3,54.3 L105.7,54.3 L106.7,53.7 L107.6,52.8 L108.7,52.1 L109.8,51.4 L110.7,50.2 L111.9,49.7 L113.2,49.8 L114.4,49.3 L115.5,48.9 L116.9,48.9 L118.1,48.9 L119.3,48.4 L120.4,48.0 L121.4,47.4 L122.5,46.9 L123.8,46.5 L125.1,46.1 L126.1,45.2 L127.3,45.0 L128.5,44.5 L129.6,43.8 L130.8,43.5 L132.1,43.4 L133.4,43.1 L134.4,42.1 L135.7,41.5 L136.7,40.9 L137.8,40.2 L138.8,39.3 L140.1,39.3 L141.3,38.9 L142.6,38.4 L143.9,38.5 L145.4,38.9 L146.6,38.5 L147.8,38.1 L149.1,38.0 L150.3,37.9 L151.4,37.4 L152.5,37.6 L154.0,37.7 L155.5,37.4 L156.9,36.7 L158.4,36.5 L159.8,36.2 L161.2,36.1 L162.4,36.5 L163.6,37.1 L164.6,37.7 L165.6,38.2 L166.9,38.6 L168.1,39.3 L168.9,40.4 L169.8,41.5 L170.3,42.8 L170.4,44.3 L170.7,45.6 L170.8,47.0 L171.1,47.9 L171.2,49.0 L171.4,50.2 L171.3,51.4 L171.8,52.7 L171.4,54.0 L171.2,55.2 L170.7,56.5 L170.5,57.8 L170.0,58.9 L169.5,60.0 L169.2,61.3 L168.7,62.5 L167.9,63.5 L167.2,64.5 L167.3,65.9 L166.6,67.0 L165.8,68.1 L165.4,69.4 L164.9,70.8 L163.9,71.9 L163.6,73.1 L163.4,74.3 L162.8,75.4 L162.5,76.6 L162.0,77.8 L161.2,78.8 L160.4,79.9 L159.7,81.0 L158.9,82.2 L158.0,83.2 L157.2,84.3 L156.7,85.4 L155.9,86.5 L154.8,87.3 L154.5,88.5 L154.0,89.7 L153.4,90.8 L152.9,91.9 L152.3,93.0 L151.3,93.8 L150.6,94.9 L149.7,95.8 L148.9,96.7 L148.4,97.8 L147.6,98.7 L146.9,99.7 L145.9,100.5 L145.3,101.5 L144.7,102.6 L144.4,104.0 L143.9,105.2 L143.2,106.3 L142.5,107.4 L141.8,108.4 L141.0,109.4 L139.8,109.9 L139.3,111.1 L138.8,112.2 L137.6,112.6 L136.8,113.3 L136.4,114.4 L135.1,115.3 L133.8,116.1 L132.9,117.1 L131.7,117.7 L130.5,118.1 L129.6,119.0 L128.6,119.5 L127.9,120.4 L126.7,121.0 L125.6,121.5 L124.6,122.0 L123.4,122.4 L122.2,122.0 L121.0,122.6 L119.7,122.6 L118.4,122.6 L117.1,122.6 L115.7,123.2 L114.2,123.1 L112.7,122.8 L111.5,122.5 L110.2,122.7 L108.9,122.5 L107.6,122.9 L106.4,123.5 L105.0,123.7 L103.7,123.8 L102.4,123.7 L101.1,123.0 L99.8,123.3 L98.5,122.9 L97.2,122.7 L95.8,123.0 L94.5,123.3 L93.4,122.2 L92.0,122.6 L90.9,121.9 L89.8,121.0 L88.6,120.5 L87.3,120.5 L86.2,119.9 L84.9,119.9 L83.8,119.5 L82.6,119.0 L81.8,118.0 L80.8,117.3 L79.9,116.6 L78.9,115.8 L77.8,115.1 L76.8,114.3 L75.9,113.3 L75.0,112.2 L74.1,111.2 L73.2,110.1 L72.2,109.1 L71.1,108.3 L70.5,107.1 L69.9,105.9 L69.8,104.6 L69.4,103.4 L69.2,102.2 L68.9,100.9 L68.4,99.6 L67.7,98.6 L67.4,97.3 L67.3,95.9 L66.6,94.7 L66.2,93.5 L66.0,92.2 L65.4,91.2 L64.7,90.3 L64.4,88.9 L63.8,87.7 L63.1,86.6 L62.9,85.4Z" fill="none" stroke="#8f8ac0" stroke-width="2.2" opacity="0.45" filter="url(#fb16)"/>
<path d="M63.0,84.2 L63.9,83.6 L64.5,82.7 L65.8,82.2 L66.8,81.3 L67.9,80.2 L69.3,79.3 L70.6,78.3 L71.1,77.1 L72.2,76.5 L73.3,75.8 L74.4,75.1 L75.2,74.0 L76.3,73.2 L77.2,72.1 L78.4,71.4 L79.0,70.0 L80.1,69.2 L81.2,68.5 L81.9,67.4 L82.7,66.4 L84.1,66.1 L85.1,65.5 L86.4,65.1 L87.5,64.6 L88.5,64.0 L89.5,63.2 L90.4,62.2 L91.4,61.4 L92.6,60.7 L93.8,60.5 L94.8,59.9 L96.0,59.7 L96.7,58.5 L97.7,57.7 L98.6,56.7 L99.5,55.9 L100.5,55.1 L101.7,54.7 L103.1,54.6 L104.3,54.3 L105.7,54.3 L106.7,53.7 L107.6,52.8 L108.7,52.1 L109.8,51.4 L110.7,50.2 L111.9,49.7 L113.2,49.8 L114.4,49.3 L115.5,48.9 L116.9,48.9 L118.1,48.9 L119.3,48.4 L120.4,48.0 L121.4,47.4 L122.5,46.9 L123.8,46.5 L125.1,46.1 L126.1,45.2 L127.3,45.0 L128.5,44.5 L129.6,43.8 L130.8,43.5 L132.1,43.4 L133.4,43.1 L134.4,42.1 L135.7,41.5 L136.7,40.9 L137.8,40.2 L138.8,39.3 L140.1,39.3 L141.3,38.9 L142.6,38.4 L143.9,38.5 L145.4,38.9 L146.6,38.5 L147.8,38.1 L149.1,38.0 L150.3,37.9 L151.4,37.4 L152.5,37.6 L154.0,37.7 L155.5,37.4 L156.9,36.7 L158.4,36.5 L159.8,36.2 L161.2,36.1 L162.4,36.5 L163.6,37.1 L164.6,37.7 L165.6,38.2 L166.9,38.6 L168.1,39.3 L168.9,40.4 L169.8,41.5 L170.3,42.8 L170.4,44.3 L170.7,45.6 L170.8,47.0 L171.1,47.9 L171.2,49.0 L171.4,50.2 L171.3,51.4 L171.8,52.7 L171.4,54.0 L171.2,55.2 L170.7,56.5 L170.5,57.8 L170.0,58.9 L169.5,60.0 L169.2,61.3 L168.7,62.5 L167.9,63.5 L167.2,64.5 L167.3,65.9 L166.6,67.0 L165.8,68.1 L165.4,69.4 L164.9,70.8 L163.9,71.9 L163.6,73.1 L163.4,74.3 L162.8,75.4 L162.5,76.6 L162.0,77.8 L161.2,78.8 L160.4,79.9 L159.7,81.0 L158.9,82.2 L158.0,83.2 L157.2,84.3 L156.7,85.4 L155.9,86.5 L154.8,87.3 L154.5,88.5 L154.0,89.7 L153.4,90.8 L152.9,91.9 L152.3,93.0 L151.3,93.8 L150.6,94.9 L149.7,95.8 L148.9,96.7 L148.4,97.8 L147.6,98.7 L146.9,99.7 L145.9,100.5 L145.3,101.5 L144.7,102.6 L144.4,104.0 L143.9,105.2 L143.2,106.3 L142.5,107.4 L141.8,108.4 L141.0,109.4 L139.8,109.9 L139.3,111.1 L138.8,112.2 L137.6,112.6 L136.8,113.3 L136.4,114.4 L135.1,115.3 L133.8,116.1 L132.9,117.1 L131.7,117.7 L130.5,118.1 L129.6,119.0 L128.6,119.5 L127.9,120.4 L126.7,121.0 L125.6,121.5 L124.6,122.0 L123.4,122.4 L122.2,122.0 L121.0,122.6 L119.7,122.6 L118.4,122.6 L117.1,122.6 L115.7,123.2 L114.2,123.1 L112.7,122.8 L111.5,122.5 L110.2,122.7 L108.9,122.5 L107.6,122.9 L106.4,123.5 L105.0,123.7 L103.7,123.8 L102.4,123.7 L101.1,123.0 L99.8,123.3 L98.5,122.9 L97.2,122.7 L95.8,123.0 L94.5,123.3 L93.4,122.2 L92.0,122.6 L90.9,121.9 L89.8,121.0 L88.6,120.5 L87.3,120.5 L86.2,119.9 L84.9,119.9 L83.8,119.5 L82.6,119.0 L81.8,118.0 L80.8,117.3 L79.9,116.6 L78.9,115.8 L77.8,115.1 L76.8,114.3 L75.9,113.3 L75.0,112.2 L74.1,111.2 L73.2,110.1 L72.2,109.1 L71.1,108.3 L70.5,107.1 L69.9,105.9 L69.8,104.6 L69.4,103.4 L69.2,102.2 L68.9,100.9 L68.4,99.6 L67.7,98.6 L67.4,97.3 L67.3,95.9 L66.6,94.7 L66.2,93.5 L66.0,92.2 L65.4,91.2 L64.7,90.3 L64.4,88.9 L63.8,87.7 L63.1,86.6 L62.9,85.4Z" fill="#b1adda" opacity="0.86"/>
<g clip-path="url(#cl1)">
<path d="M101.9,82.2C104.0,78.1 110.2,69.0 115.6,63.7C120.9,58.3 128.5,52.4 134.1,50.1C139.6,47.9 145.2,48.3 148.9,50.1C152.6,52.0 155.4,56.7 156.4,61.2C157.4,65.7 157.2,72.5 155.1,77.2C153.0,81.9 148.3,86.5 144.0,89.6C139.6,92.7 134.5,95.3 129.1,95.9C123.8,96.5 116.2,94.6 111.8,93.4C107.5,92.1 104.8,90.3 103.2,88.4C101.5,86.6 99.9,86.4 101.9,82.2Z" fill="#cfbee4" opacity="0.9" filter="url(#fb30)"/>
<path d="M104.5,81.6C106.4,77.8 112.0,69.6 116.9,64.7C121.8,59.8 128.6,54.5 133.7,52.4C138.8,50.3 143.8,50.7 147.2,52.4C150.6,54.1 153.1,58.4 154.0,62.5C154.9,66.6 154.7,72.7 152.8,77.0C150.9,81.3 146.6,85.5 142.7,88.3C138.8,91.1 134.1,93.4 129.2,94.0C124.3,94.6 117.4,92.8 113.5,91.7C109.6,90.6 107.1,88.9 105.6,87.2C104.1,85.5 102.6,85.3 104.5,81.6Z" fill="#d6c4e2" opacity="0.9" filter="url(#fb25)"/>
<path d="M118.4,74.8C119.4,70.5 122.5,60.4 125.8,56.6C129.1,52.8 134.1,51.9 138.0,52.2C141.8,52.4 146.7,55.1 148.8,58.1C150.8,61.1 151.1,66.2 150.1,70.2C149.1,74.3 145.8,79.6 142.6,82.4C139.3,85.2 134.3,87.0 130.5,87.0C126.8,87.0 121.9,84.4 119.9,82.4C117.8,80.4 117.4,79.1 118.4,74.8Z" fill="#dcd4d8" opacity="0.95" filter="url(#fb25)"/>
<path d="M122.5,73.7C123.2,70.5 125.6,63.0 128.0,60.2C130.4,57.4 134.2,56.7 137.0,56.9C139.8,57.1 143.5,59.1 145.0,61.3C146.5,63.5 146.8,67.3 146.0,70.3C145.2,73.3 142.8,77.2 140.4,79.3C138.0,81.4 134.3,82.7 131.5,82.7C128.7,82.7 125.1,80.8 123.6,79.3C122.1,77.8 121.8,76.9 122.5,73.7Z" fill="#e0e6c8" opacity="1" filter="url(#fb20)"/>
<path d="M127.2,72.4C127.6,70.5 129.1,66.0 130.5,64.3C131.9,62.6 134.2,62.2 135.9,62.3C137.6,62.4 139.8,63.6 140.7,65.0C141.6,66.3 141.8,68.6 141.3,70.4C140.8,72.2 139.4,74.5 137.9,75.8C136.5,77.0 134.3,77.8 132.6,77.8C130.9,77.8 128.8,76.7 127.9,75.8C127.0,74.9 126.8,74.3 127.2,72.4Z" fill="#e2ecc4" opacity="1" filter="url(#fb16)"/>
</g>
<path d="M63.0,84.2 L63.9,83.6 L64.5,82.7 L65.8,82.2 L66.8,81.3 L67.9,80.2 L69.3,79.3 L70.6,78.3 L71.1,77.1 L72.2,76.5 L73.3,75.8 L74.4,75.1 L75.2,74.0 L76.3,73.2 L77.2,72.1 L78.4,71.4 L79.0,70.0 L80.1,69.2 L81.2,68.5 L81.9,67.4 L82.7,66.4 L84.1,66.1 L85.1,65.5 L86.4,65.1 L87.5,64.6 L88.5,64.0 L89.5,63.2 L90.4,62.2 L91.4,61.4 L92.6,60.7 L93.8,60.5 L94.8,59.9 L96.0,59.7 L96.7,58.5 L97.7,57.7 L98.6,56.7 L99.5,55.9 L100.5,55.1 L101.7,54.7 L103.1,54.6 L104.3,54.3 L105.7,54.3 L106.7,53.7 L107.6,52.8 L108.7,52.1 L109.8,51.4 L110.7,50.2 L111.9,49.7 L113.2,49.8 L114.4,49.3 L115.5,48.9 L116.9,48.9 L118.1,48.9 L119.3,48.4 L120.4,48.0 L121.4,47.4 L122.5,46.9 L123.8,46.5 L125.1,46.1 L126.1,45.2 L127.3,45.0 L128.5,44.5 L129.6,43.8 L130.8,43.5 L132.1,43.4 L133.4,43.1 L134.4,42.1 L135.7,41.5 L136.7,40.9 L137.8,40.2 L138.8,39.3 L140.1,39.3 L141.3,38.9 L142.6,38.4 L143.9,38.5 L145.4,38.9 L146.6,38.5 L147.8,38.1 L149.1,38.0 L150.3,37.9 L151.4,37.4 L152.5,37.6 L154.0,37.7 L155.5,37.4 L156.9,36.7 L158.4,36.5 L159.8,36.2 L161.2,36.1 L162.4,36.5 L163.6,37.1 L164.6,37.7 L165.6,38.2 L166.9,38.6 L168.1,39.3 L168.9,40.4 L169.8,41.5 L170.3,42.8 L170.4,44.3 L170.7,45.6 L170.8,47.0 L171.1,47.9 L171.2,49.0 L171.4,50.2 L171.3,51.4 L171.8,52.7 L171.4,54.0 L171.2,55.2 L170.7,56.5 L170.5,57.8 L170.0,58.9 L169.5,60.0 L169.2,61.3 L168.7,62.5 L167.9,63.5 L167.2,64.5 L167.3,65.9 L166.6,67.0 L165.8,68.1 L165.4,69.4 L164.9,70.8 L163.9,71.9 L163.6,73.1 L163.4,74.3 L162.8,75.4 L162.5,76.6 L162.0,77.8 L161.2,78.8 L160.4,79.9 L159.7,81.0 L158.9,82.2 L158.0,83.2 L157.2,84.3 L156.7,85.4 L155.9,86.5 L154.8,87.3 L154.5,88.5 L154.0,89.7 L153.4,90.8 L152.9,91.9 L152.3,93.0 L151.3,93.8 L150.6,94.9 L149.7,95.8 L148.9,96.7 L148.4,97.8 L147.6,98.7 L146.9,99.7 L145.9,100.5 L145.3,101.5 L144.7,102.6 L144.4,104.0 L143.9,105.2 L143.2,106.3 L142.5,107.4 L141.8,108.4 L141.0,109.4 L139.8,109.9 L139.3,111.1 L138.8,112.2 L137.6,112.6 L136.8,113.3 L136.4,114.4 L135.1,115.3 L133.8,116.1 L132.9,117.1 L131.7,117.7 L130.5,118.1 L129.6,119.0 L128.6,119.5 L127.9,120.4 L126.7,121.0 L125.6,121.5 L124.6,122.0 L123.4,122.4 L122.2,122.0 L121.0,122.6 L119.7,122.6 L118.4,122.6 L117.1,122.6 L115.7,123.2 L114.2,123.1 L112.7,122.8 L111.5,122.5 L110.2,122.7 L108.9,122.5 L107.6,122.9 L106.4,123.5 L105.0,123.7 L103.7,123.8 L102.4,123.7 L101.1,123.0 L99.8,123.3 L98.5,122.9 L97.2,122.7 L95.8,123.0 L94.5,123.3 L93.4,122.2 L92.0,122.6 L90.9,121.9 L89.8,121.0 L88.6,120.5 L87.3,120.5 L86.2,119.9 L84.9,119.9 L83.8,119.5 L82.6,119.0 L81.8,118.0 L80.8,117.3 L79.9,116.6 L78.9,115.8 L77.8,115.1 L76.8,114.3 L75.9,113.3 L75.0,112.2 L74.1,111.2 L73.2,110.1 L72.2,109.1 L71.1,108.3 L70.5,107.1 L69.9,105.9 L69.8,104.6 L69.4,103.4 L69.2,102.2 L68.9,100.9 L68.4,99.6 L67.7,98.6 L67.4,97.3 L67.3,95.9 L66.6,94.7 L66.2,93.5 L66.0,92.2 L65.4,91.2 L64.7,90.3 L64.4,88.9 L63.8,87.7 L63.1,86.6 L62.9,85.4Z" fill="none" stroke="#7a74a6" stroke-width="0.55" stroke-opacity="0.8"/>
<path d="M104.6,81.7 L104.6,80.8 L105.3,80.1 L105.8,79.2 L106.6,78.4 L107.1,77.4 L108.0,76.5 L108.7,75.4 L109.4,74.2 L110.0,73.0 L110.7,71.8 L111.6,70.7 L112.5,69.7 L113.4,68.6 L114.3,67.5 L115.1,66.5 L115.9,65.4 L116.8,64.6 L117.7,63.7 L118.5,62.8 L119.6,62.0 L120.7,61.3 L121.5,60.2 L122.6,59.4 L123.7,58.7 L124.7,57.9 L125.6,56.9 L126.6,56.1 L127.7,55.4 L128.7,54.8 L129.7,54.0 L130.8,53.7 L131.9,53.3 L132.9,53.0 L133.8,52.6 L135.2,52.3 L136.6,52.1 L137.9,52.0 L139.2,51.6 L140.4,51.5 L141.7,51.5 L142.9,51.3 L144.1,51.4 L145.1,51.8 L146.2,52.1 L147.2,52.5 L148.1,53.1 L149.2,53.6 L150.2,54.4 L150.8,55.5 L151.6,56.5 L152.5,57.5 L152.9,58.7 L153.8,59.8 L154.2,61.1 L154.4,62.4 L154.4,63.5 L154.3,64.7 L154.2,65.9 L154.5,67.1 L154.4,68.4 L154.4,69.7 L154.7,71.0 L154.3,72.3 L153.7,73.5 L153.3,74.6 L152.8,75.7 L152.4,76.8 L152.1,78.0 L151.5,79.1 L150.9,80.1 L150.5,81.5 L149.5,82.3 L148.5,83.2 L147.7,84.3 L146.9,85.3 L145.7,85.9 L144.6,86.7 L143.6,87.5 L142.7,88.2 L141.6,88.8 L140.4,89.3 L139.5,90.2 L138.6,91.0 L137.4,91.5 L136.3,92.0 L135.2,92.7 L134.0,92.9 L132.7,93.0 L131.6,93.3 L130.3,93.4 L129.2,93.6 L128.0,93.6 L126.8,93.8 L125.6,93.7 L124.3,94.0 L123.0,93.7 L121.7,93.5 L120.4,93.2 L119.1,92.8 L118.0,92.2 L116.7,92.1 L115.5,92.1 L114.4,92.1 L113.4,91.9 L111.7,91.8 L110.1,91.4 L108.9,90.6 L108.0,89.5 L107.0,88.8 L106.4,87.9 L106.1,86.7 L105.0,85.7 L104.1,85.1 L104.1,83.9ZM122.4,73.7 L122.8,72.8 L123.2,71.8 L123.4,70.7 L123.9,69.5 L124.5,68.2 L124.8,66.9 L125.5,65.6 L126.0,64.4 L126.4,63.1 L126.7,61.9 L127.5,61.0 L128.1,60.3 L129.1,59.1 L130.4,58.4 L131.7,57.8 L133.0,57.1 L134.4,56.7 L135.7,56.8 L137.0,56.9 L138.2,57.5 L139.3,58.1 L140.6,58.6 L141.8,59.2 L142.9,59.9 L144.1,60.5 L145.0,61.3 L145.7,62.3 L146.0,63.5 L146.2,64.8 L146.2,66.2 L146.3,67.6 L146.1,68.9 L146.0,70.3 L145.8,71.5 L145.6,72.9 L144.8,74.1 L144.2,75.4 L143.2,76.5 L142.3,77.5 L141.3,78.4 L140.3,79.2 L139.2,80.0 L138.0,80.8 L136.8,81.5 L135.4,81.9 L134.1,82.6 L132.8,82.8 L131.5,82.9 L130.3,82.5 L129.0,82.3 L127.7,81.8 L126.6,81.1 L125.4,80.5 L124.3,80.0 L123.8,79.1 L123.1,78.0 L122.8,77.0 L122.6,75.7Z" fill="none" stroke="#8d7aa6" stroke-width="0.5" stroke-opacity="0.7"/>
<path d="M233.6,49.3 L234.7,49.3 L235.8,49.4 L236.9,49.8 L238.2,49.7 L239.4,50.3 L240.6,50.8 L241.8,51.4 L242.9,52.3 L243.9,53.4 L244.7,54.1 L245.4,54.9 L246.0,56.0 L246.8,56.9 L247.5,57.8 L248.6,58.7 L249.0,59.9 L249.9,60.9 L250.5,62.1 L251.1,63.2 L251.3,64.6 L252.3,65.6 L252.0,67.1 L252.4,68.2 L252.3,69.4 L252.6,70.6 L252.5,71.9 L253.3,72.9 L253.9,74.1 L254.8,75.1 L254.4,76.5 L254.7,77.7 L255.1,78.9 L255.1,80.2 L254.7,81.4 L255.1,82.6 L255.0,83.8 L255.2,85.0 L255.5,86.2 L255.6,87.4 L255.7,88.6 L255.9,89.8 L255.5,91.0 L255.3,92.2 L255.2,93.4 L255.1,94.7 L254.9,95.9 L254.5,97.0 L254.3,98.3 L254.3,99.5 L253.9,100.7 L253.6,101.8 L253.3,103.0 L253.0,104.2 L252.5,105.4 L252.3,106.7 L252.0,108.0 L251.7,109.2 L250.8,110.3 L250.0,111.3 L249.5,112.4 L248.7,113.4 L248.3,114.5 L247.8,115.5 L247.6,116.6 L247.3,117.6 L246.4,119.0 L245.2,120.1 L244.5,121.5 L243.6,122.7 L242.4,123.5 L241.3,124.2 L240.6,125.2 L239.7,125.9 L238.6,125.6 L237.5,126.0 L236.4,126.1 L235.5,125.5 L234.6,124.5 L233.5,123.6 L232.3,122.3 L231.4,121.9 L230.6,121.3 L230.2,120.2 L229.6,119.2 L229.3,118.0 L229.2,116.6 L228.3,115.7 L227.4,114.7 L226.6,113.6 L226.0,112.4 L225.2,111.3 L225.0,109.9 L224.6,108.6 L223.5,107.9 L223.0,106.9 L222.4,105.8 L221.8,104.7 L220.8,103.8 L220.4,102.6 L220.0,101.4 L219.3,100.3 L218.9,99.1 L218.7,97.8 L218.6,96.5 L218.3,95.2 L218.2,93.9 L217.8,92.8 L217.8,91.5 L217.2,90.5 L216.6,89.3 L216.1,88.0 L215.7,86.7 L215.1,85.5 L215.0,84.1 L214.4,82.9 L214.1,81.6 L214.0,80.3 L213.4,79.1 L213.1,78.0 L213.0,76.8 L212.3,75.8 L211.7,74.8 L211.5,73.7 L211.5,72.2 L211.4,70.7 L211.8,69.3 L212.1,68.0 L212.3,66.7 L212.2,65.4 L213.0,64.4 L213.5,63.3 L213.7,62.1 L214.3,60.9 L215.2,60.1 L215.7,58.8 L216.7,57.9 L217.3,56.6 L218.5,55.8 L219.3,54.6 L220.3,53.7 L221.2,52.4 L222.5,52.1 L223.7,51.5 L224.9,50.9 L226.2,50.3 L227.4,49.6 L228.8,49.3 L230.0,48.9 L231.3,48.5 L232.4,48.0Z" fill="none" stroke="#8f8ac0" stroke-width="2.2" opacity="0.45" filter="url(#fb16)"/>
<path d="M233.6,49.3 L234.7,49.3 L235.8,49.4 L236.9,49.8 L238.2,49.7 L239.4,50.3 L240.6,50.8 L241.8,51.4 L242.9,52.3 L243.9,53.4 L244.7,54.1 L245.4,54.9 L246.0,56.0 L246.8,56.9 L247.5,57.8 L248.6,58.7 L249.0,59.9 L249.9,60.9 L250.5,62.1 L251.1,63.2 L251.3,64.6 L252.3,65.6 L252.0,67.1 L252.4,68.2 L252.3,69.4 L252.6,70.6 L252.5,71.9 L253.3,72.9 L253.9,74.1 L254.8,75.1 L254.4,76.5 L254.7,77.7 L255.1,78.9 L255.1,80.2 L254.7,81.4 L255.1,82.6 L255.0,83.8 L255.2,85.0 L255.5,86.2 L255.6,87.4 L255.7,88.6 L255.9,89.8 L255.5,91.0 L255.3,92.2 L255.2,93.4 L255.1,94.7 L254.9,95.9 L254.5,97.0 L254.3,98.3 L254.3,99.5 L253.9,100.7 L253.6,101.8 L253.3,103.0 L253.0,104.2 L252.5,105.4 L252.3,106.7 L252.0,108.0 L251.7,109.2 L250.8,110.3 L250.0,111.3 L249.5,112.4 L248.7,113.4 L248.3,114.5 L247.8,115.5 L247.6,116.6 L247.3,117.6 L246.4,119.0 L245.2,120.1 L244.5,121.5 L243.6,122.7 L242.4,123.5 L241.3,124.2 L240.6,125.2 L239.7,125.9 L238.6,125.6 L237.5,126.0 L236.4,126.1 L235.5,125.5 L234.6,124.5 L233.5,123.6 L232.3,122.3 L231.4,121.9 L230.6,121.3 L230.2,120.2 L229.6,119.2 L229.3,118.0 L229.2,116.6 L228.3,115.7 L227.4,114.7 L226.6,113.6 L226.0,112.4 L225.2,111.3 L225.0,109.9 L224.6,108.6 L223.5,107.9 L223.0,106.9 L222.4,105.8 L221.8,104.7 L220.8,103.8 L220.4,102.6 L220.0,101.4 L219.3,100.3 L218.9,99.1 L218.7,97.8 L218.6,96.5 L218.3,95.2 L218.2,93.9 L217.8,92.8 L217.8,91.5 L217.2,90.5 L216.6,89.3 L216.1,88.0 L215.7,86.7 L215.1,85.5 L215.0,84.1 L214.4,82.9 L214.1,81.6 L214.0,80.3 L213.4,79.1 L213.1,78.0 L213.0,76.8 L212.3,75.8 L211.7,74.8 L211.5,73.7 L211.5,72.2 L211.4,70.7 L211.8,69.3 L212.1,68.0 L212.3,66.7 L212.2,65.4 L213.0,64.4 L213.5,63.3 L213.7,62.1 L214.3,60.9 L215.2,60.1 L215.7,58.8 L216.7,57.9 L217.3,56.6 L218.5,55.8 L219.3,54.6 L220.3,53.7 L221.2,52.4 L222.5,52.1 L223.7,51.5 L224.9,50.9 L226.2,50.3 L227.4,49.6 L228.8,49.3 L230.0,48.9 L231.3,48.5 L232.4,48.0Z" fill="#b9b2e0" opacity="0.86"/>
<g clip-path="url(#cl2)">
<path d="M231.9,56.3C234.1,56.0 237.4,56.6 239.3,60.0C241.1,63.4 242.6,70.8 242.9,76.6C243.2,82.5 242.4,90.3 241.1,95.2C239.9,100.2 237.4,104.8 235.5,106.3C233.7,107.9 231.6,107.0 230.0,104.6C228.5,102.1 227.2,96.5 226.3,91.6C225.3,86.6 224.4,79.8 224.4,74.9C224.4,69.9 225.0,65.0 226.3,61.9C227.5,58.8 229.7,56.6 231.9,56.3Z" fill="#cdb8e2" opacity="0.9" filter="url(#fb30)"/>
<path d="M232.0,58.5C234.0,58.2 237.0,58.8 238.7,61.9C240.4,65.0 241.7,71.7 242.0,77.0C242.3,82.3 241.5,89.4 240.4,93.9C239.3,98.4 237.0,102.6 235.3,104.0C233.6,105.4 231.7,104.6 230.3,102.4C228.9,100.2 227.8,95.1 226.9,90.6C226.1,86.1 225.2,79.9 225.2,75.4C225.2,70.9 225.8,66.4 226.9,63.6C228.0,60.8 230.0,58.8 232.0,58.5Z" fill="#d6bee2" opacity="0.9" filter="url(#fb25)"/>
<path d="M234.7,61.0C235.7,61.0 236.7,68.1 237.7,71.4C238.7,74.6 240.5,77.4 240.5,80.4C240.5,83.4 238.7,86.2 237.7,89.3C236.7,92.5 235.7,99.5 234.7,99.5C233.7,99.5 232.7,92.5 231.6,89.3C230.6,86.2 228.4,83.4 228.4,80.4C228.4,77.4 230.6,74.6 231.6,71.4C232.7,68.1 233.7,61.0 234.7,61.0Z" fill="#e0cad8" opacity="0.95" filter="url(#fb25)"/>
<path d="M234.7,66.0C235.4,66.0 236.2,71.3 236.9,73.7C237.6,76.1 239.0,78.2 239.0,80.4C239.0,82.6 237.6,84.7 236.9,87.0C236.2,89.3 235.4,94.5 234.7,94.5C233.9,94.5 233.2,89.3 232.4,87.0C231.6,84.7 230.0,82.6 230.0,80.4C230.0,78.2 231.6,76.1 232.4,73.7C233.2,71.3 233.9,66.0 234.7,66.0Z" fill="#ead8cc" opacity="1" filter="url(#fb20)"/>
<path d="M234.7,71.7C235.1,71.7 235.6,74.9 236.0,76.4C236.4,77.8 237.2,79.0 237.2,80.4C237.2,81.7 236.4,82.9 236.0,84.3C235.6,85.7 235.1,88.8 234.7,88.8C234.2,88.8 233.8,85.7 233.3,84.3C232.8,82.9 231.8,81.7 231.8,80.4C231.8,79.0 232.8,77.8 233.3,76.4C233.8,74.9 234.2,71.7 234.7,71.7Z" fill="#eedcc6" opacity="1" filter="url(#fb16)"/>
</g>
<path d="M233.6,49.3 L234.7,49.3 L235.8,49.4 L236.9,49.8 L238.2,49.7 L239.4,50.3 L240.6,50.8 L241.8,51.4 L242.9,52.3 L243.9,53.4 L244.7,54.1 L245.4,54.9 L246.0,56.0 L246.8,56.9 L247.5,57.8 L248.6,58.7 L249.0,59.9 L249.9,60.9 L250.5,62.1 L251.1,63.2 L251.3,64.6 L252.3,65.6 L252.0,67.1 L252.4,68.2 L252.3,69.4 L252.6,70.6 L252.5,71.9 L253.3,72.9 L253.9,74.1 L254.8,75.1 L254.4,76.5 L254.7,77.7 L255.1,78.9 L255.1,80.2 L254.7,81.4 L255.1,82.6 L255.0,83.8 L255.2,85.0 L255.5,86.2 L255.6,87.4 L255.7,88.6 L255.9,89.8 L255.5,91.0 L255.3,92.2 L255.2,93.4 L255.1,94.7 L254.9,95.9 L254.5,97.0 L254.3,98.3 L254.3,99.5 L253.9,100.7 L253.6,101.8 L253.3,103.0 L253.0,104.2 L252.5,105.4 L252.3,106.7 L252.0,108.0 L251.7,109.2 L250.8,110.3 L250.0,111.3 L249.5,112.4 L248.7,113.4 L248.3,114.5 L247.8,115.5 L247.6,116.6 L247.3,117.6 L246.4,119.0 L245.2,120.1 L244.5,121.5 L243.6,122.7 L242.4,123.5 L241.3,124.2 L240.6,125.2 L239.7,125.9 L238.6,125.6 L237.5,126.0 L236.4,126.1 L235.5,125.5 L234.6,124.5 L233.5,123.6 L232.3,122.3 L231.4,121.9 L230.6,121.3 L230.2,120.2 L229.6,119.2 L229.3,118.0 L229.2,116.6 L228.3,115.7 L227.4,114.7 L226.6,113.6 L226.0,112.4 L225.2,111.3 L225.0,109.9 L224.6,108.6 L223.5,107.9 L223.0,106.9 L222.4,105.8 L221.8,104.7 L220.8,103.8 L220.4,102.6 L220.0,101.4 L219.3,100.3 L218.9,99.1 L218.7,97.8 L218.6,96.5 L218.3,95.2 L218.2,93.9 L217.8,92.8 L217.8,91.5 L217.2,90.5 L216.6,89.3 L216.1,88.0 L215.7,86.7 L215.1,85.5 L215.0,84.1 L214.4,82.9 L214.1,81.6 L214.0,80.3 L213.4,79.1 L213.1,78.0 L213.0,76.8 L212.3,75.8 L211.7,74.8 L211.5,73.7 L211.5,72.2 L211.4,70.7 L211.8,69.3 L212.1,68.0 L212.3,66.7 L212.2,65.4 L213.0,64.4 L213.5,63.3 L213.7,62.1 L214.3,60.9 L215.2,60.1 L215.7,58.8 L216.7,57.9 L217.3,56.6 L218.5,55.8 L219.3,54.6 L220.3,53.7 L221.2,52.4 L222.5,52.1 L223.7,51.5 L224.9,50.9 L226.2,50.3 L227.4,49.6 L228.8,49.3 L230.0,48.9 L231.3,48.5 L232.4,48.0Z" fill="none" stroke="#7a74a6" stroke-width="0.55" stroke-opacity="0.8"/>
<path d="M232.0,58.4 L233.1,58.2 L234.3,58.1 L235.7,58.4 L237.0,59.1 L238.1,60.3 L239.2,61.6 L239.5,62.6 L239.9,63.6 L240.5,64.6 L240.6,65.9 L240.8,67.2 L241.0,68.6 L241.1,70.0 L241.3,71.4 L241.6,72.8 L241.9,74.2 L242.1,75.6 L242.4,77.0 L242.2,78.2 L241.9,79.4 L241.3,80.6 L241.4,81.9 L241.1,83.1 L241.4,84.4 L241.7,85.8 L241.8,87.1 L241.8,88.3 L241.8,89.6 L241.7,90.8 L241.2,91.9 L241.2,93.0 L240.6,93.9 L240.2,95.5 L239.5,96.8 L239.0,98.2 L238.3,99.5 L237.9,100.7 L237.1,101.8 L236.6,102.8 L236.1,103.6 L235.3,104.0 L234.0,104.8 L232.6,104.8 L231.4,103.8 L230.4,102.4 L229.9,101.6 L229.4,100.8 L229.2,99.7 L228.7,98.6 L228.3,97.4 L227.8,96.1 L227.6,94.8 L227.4,93.4 L227.2,92.0 L227.3,90.5 L227.1,89.4 L226.8,88.2 L226.4,86.9 L226.0,85.7 L225.8,84.4 L225.7,83.0 L225.8,81.6 L225.6,80.3 L225.6,79.0 L225.3,77.8 L225.1,76.6 L225.0,75.4 L225.1,73.9 L225.0,72.4 L225.2,71.0 L225.4,69.5 L225.4,68.1 L225.6,66.8 L225.9,65.6 L226.3,64.5 L226.4,63.4 L227.5,62.3 L228.4,61.2 L229.5,60.4 L230.1,59.4 L231.2,59.1ZM234.7,66.3 L234.7,66.6 L235.0,67.6 L235.4,69.0 L235.8,70.7 L236.3,72.4 L236.8,73.7 L237.2,75.2 L237.7,76.5 L238.1,77.9 L238.4,79.2 L238.7,80.4 L238.7,81.7 L238.2,82.9 L237.9,84.3 L237.4,85.6 L236.8,87.0 L236.1,88.3 L235.8,89.9 L235.4,91.5 L235.2,93.0 L234.8,94.0 L234.7,94.6 L234.3,94.1 L233.9,93.1 L233.9,91.6 L233.4,89.9 L233.1,88.3 L232.6,86.9 L232.3,85.4 L231.5,84.2 L230.9,82.9 L230.4,81.7 L230.2,80.4 L230.0,79.0 L230.7,77.8 L231.1,76.4 L231.6,75.0 L232.3,73.7 L232.6,72.3 L232.8,70.5 L233.1,68.8 L233.7,67.4 L234.1,66.3Z" fill="none" stroke="#8d7aa6" stroke-width="0.5" stroke-opacity="0.7"/>
<path d="M122.4,122.3 L123.3,121.1 L124.3,120.1 L124.2,118.9 L125.5,118.0 L125.9,116.7 L126.6,115.5 L127.0,114.2 L127.8,113.0 L128.2,111.7 L128.8,110.4 L128.4,108.9 L129.0,107.9 L130.3,107.3 L131.0,106.4 L132.2,105.7 L133.0,104.8 L134.0,104.0 L134.1,102.5 L134.4,101.0 L134.9,99.7 L136.1,99.0 L136.6,97.6 L137.6,97.0 L138.7,96.2 L139.8,95.6 L140.3,94.3 L141.7,93.9 L143.2,93.6 L144.4,92.9 L144.9,91.5 L145.6,90.3 L146.4,89.3 L147.2,88.3 L147.5,86.7 L148.5,86.0 L149.9,85.9 L151.1,85.3 L152.1,84.5 L153.3,84.0 L154.4,83.5 L155.4,82.9 L156.3,82.1 L156.9,80.7 L158.2,80.8 L159.1,79.9 L159.8,79.0 L160.6,78.1 L162.1,78.1 L162.8,76.9 L163.5,75.8 L164.5,75.0 L165.7,74.4 L166.7,73.6 L167.7,72.8 L169.1,72.3 L170.0,71.4 L170.6,70.2 L171.5,69.3 L172.3,68.3 L173.0,67.2 L173.9,66.2 L174.8,65.2 L175.0,63.6 L176.1,62.8 L177.2,62.1 L177.8,60.8 L178.9,60.1 L180.2,59.7 L181.5,59.4 L182.3,58.5 L183.8,58.5 L184.9,58.0 L185.9,57.1 L186.9,56.1 L188.0,55.4 L189.1,54.6 L190.4,54.2 L191.6,54.2 L192.9,54.2 L194.0,54.1 L195.4,54.0 L196.7,53.9 L198.0,53.4 L199.3,53.2 L200.5,53.6 L201.6,54.3 L202.8,54.1 L204.0,54.4 L205.4,54.6 L206.8,54.7 L208.2,54.7 L209.4,55.2 L210.6,55.7 L211.7,56.4 L212.6,57.0 L213.5,57.6 L214.5,58.3 L215.3,59.3 L215.8,60.5 L216.8,61.4 L217.9,62.5 L218.6,63.7 L218.9,64.9 L219.5,65.9 L219.1,67.3 L219.4,68.6 L218.7,70.1 L218.8,71.4 L219.0,72.7 L220.0,73.9 L219.9,75.4 L220.5,76.7 L220.3,78.1 L220.3,79.3 L220.2,80.5 L220.4,81.7 L220.8,82.9 L221.2,84.1 L221.5,85.3 L221.9,86.5 L221.6,87.8 L221.7,89.0 L222.6,90.3 L222.8,91.5 L222.3,92.8 L222.9,94.1 L222.5,95.3 L221.8,96.5 L222.0,97.8 L222.7,99.1 L221.7,100.3 L222.0,101.6 L222.5,103.0 L221.5,104.2 L220.7,105.3 L221.5,106.8 L220.7,107.9 L219.8,109.0 L219.6,110.2 L218.4,111.1 L217.5,112.1 L217.1,113.3 L216.7,114.5 L216.8,116.1 L217.0,117.7 L216.2,118.7 L215.7,119.9 L214.8,120.9 L213.7,121.7 L212.4,122.2 L211.5,122.9 L210.1,123.2 L209.3,124.2 L208.1,124.8 L207.2,125.8 L206.2,126.6 L205.4,127.8 L204.0,127.9 L202.8,128.4 L201.7,129.0 L200.9,130.2 L200.0,131.0 L198.8,131.6 L197.6,132.0 L196.7,133.0 L195.5,133.1 L194.3,133.4 L193.2,134.2 L191.9,135.3 L190.1,134.7 L189.1,134.3 L188.0,133.7 L186.9,133.7 L185.8,133.0 L184.6,133.2 L183.5,133.3 L182.2,134.1 L181.0,133.9 L179.7,133.9 L178.5,134.6 L177.2,134.6 L175.8,134.0 L174.6,135.0 L173.3,135.2 L172.0,134.8 L170.8,135.1 L169.8,135.8 L168.4,135.5 L167.3,136.2 L166.2,137.0 L165.0,137.5 L163.6,137.5 L162.3,137.7 L161.1,138.4 L160.0,139.0 L158.7,139.4 L157.7,140.5 L156.5,140.6 L155.2,140.2 L154.0,139.6 L153.0,139.6 L152.1,139.3 L150.8,139.3 L149.5,139.2 L147.8,139.8 L146.3,139.8 L145.2,139.0 L144.2,138.1 L143.5,136.9 L143.1,135.3 L142.4,134.2 L141.3,133.7 L140.1,133.3 L139.0,133.0 L137.6,132.6 L136.5,131.8 L135.7,130.8 L134.3,130.6 L133.2,130.2 L132.4,129.2 L131.7,128.3 L130.8,127.7 L130.3,126.6 L128.9,125.8 L127.3,125.8 L125.7,125.7 L124.1,125.3 L122.6,124.2Z" fill="#8e89d6" opacity="0.42" stroke="#7b76b8" stroke-width="0.5" stroke-opacity="0.6"/>
<path d="M125.2,121.6 L124.6,121.0 L124.6,120.0 L124.7,118.9 L123.9,117.7 L124.0,116.3 L124.8,114.9 L124.6,113.3 L124.7,111.7 L125.2,110.2 L125.9,108.7 L126.1,107.6 L126.8,106.7 L127.3,105.6 L127.8,104.5 L127.9,103.2 L128.7,102.1 L129.2,100.9 L130.4,100.1 L131.2,99.0 L132.0,98.0 L132.9,96.9 L134.0,96.1 L134.5,94.9 L135.6,94.2 L136.4,93.2 L137.1,92.2 L137.9,91.3 L138.7,90.3 L139.0,89.0 L139.7,88.0 L140.5,87.0 L141.2,85.9 L142.2,85.2 L143.3,84.6 L144.3,83.9 L144.9,82.8 L145.5,81.7 L146.1,80.5 L146.6,79.4 L147.9,79.1 L149.4,78.7 L150.7,78.3 L151.7,77.5 L152.7,76.7 L153.6,75.7 L154.5,74.9 L155.4,74.0 L156.7,73.6 L158.0,73.4 L159.0,72.8 L159.8,71.9 L160.9,71.6 L161.5,70.6 L162.6,69.6 L163.6,68.5 L164.7,67.5 L165.8,66.7 L167.2,66.4 L168.2,65.6 L169.4,65.4 L170.7,65.4 L171.4,64.7 L173.0,63.4 L174.6,63.0 L175.4,62.4 L175.8,62.2 L176.3,62.6 L175.8,63.5 L176.3,64.7 L176.2,66.2 L175.2,67.5 L173.8,68.7 L173.8,69.8 L172.8,70.3 L172.0,71.0 L171.6,72.2 L171.0,73.4 L170.1,74.3 L169.3,75.4 L168.6,76.5 L167.9,77.6 L167.4,79.0 L166.6,80.0 L165.6,80.8 L165.1,82.0 L164.1,82.8 L163.0,83.5 L162.0,84.2 L161.3,85.3 L159.9,85.7 L158.9,86.5 L157.7,87.2 L157.1,88.3 L156.2,89.2 L155.4,90.2 L154.6,91.3 L154.4,92.6 L153.7,93.7 L153.0,94.9 L152.9,96.3 L152.5,97.7 L152.5,99.1 L152.4,100.5 L152.8,101.9 L153.1,103.2 L153.0,104.5 L152.7,105.7 L152.6,106.9 L151.8,107.8 L151.2,108.6 L150.8,110.1 L150.3,111.4 L149.9,112.7 L149.1,113.6 L148.2,114.4 L147.3,115.3 L146.2,116.3 L144.8,116.1 L144.1,117.2 L143.1,117.9 L142.1,118.7 L140.7,118.8 L139.7,119.8 L138.4,119.9 L137.3,120.7 L136.1,120.7 L134.9,120.5 L133.6,121.3 L132.0,121.3 L130.4,121.1 L129.0,121.0 L127.8,121.3 L126.9,120.8 L126.5,120.8Z" fill="#7f79c8" opacity="0.45" filter="url(#fb6)"/>
<path d="M168.6,70.6 L168.9,69.5 L169.5,68.6 L170.2,67.7 L170.7,66.4 L171.4,65.3 L172.3,64.3 L173.2,63.3 L174.4,62.6 L175.6,62.0 L176.6,61.0 L177.7,60.2 L178.9,59.6 L180.3,59.5 L181.4,58.9 L183.0,59.8 L184.3,59.6 L185.6,59.6 L186.6,58.5 L187.9,58.2 L188.9,56.5 L190.3,56.6 L191.5,56.2 L192.8,55.9 L194.1,55.7 L195.4,56.0 L196.6,56.0 L197.7,56.8 L198.7,57.0 L200.0,57.3 L201.1,58.0 L202.3,58.4 L203.8,58.5 L204.5,59.8 L205.3,60.8 L206.2,61.8 L206.7,63.1 L207.3,64.2 L208.2,65.2 L208.8,66.4 L209.4,67.2 L210.2,68.1 L210.6,69.2 L211.9,70.0 L212.2,71.2 L212.5,72.5 L212.3,73.8 L212.6,75.1 L212.4,76.5 L213.1,77.7 L213.0,79.0 L213.4,80.3 L213.8,81.6 L213.4,82.9 L213.4,84.1 L213.3,85.3 L213.8,86.6 L213.6,87.8 L213.7,89.1 L213.0,90.3 L213.1,91.6 L212.5,92.8 L212.0,93.9 L211.6,95.1 L211.5,96.4 L211.3,97.6 L211.4,98.8 L210.4,99.8 L209.7,100.8 L209.0,101.7 L208.3,102.9 L207.0,103.8 L207.3,105.3 L207.3,106.7 L207.2,108.0 L206.7,109.2 L206.7,110.5 L206.0,111.6 L205.5,112.6 L204.7,113.5 L204.2,114.7 L203.1,115.2 L202.4,116.2 L200.9,116.1 L199.9,116.8 L198.7,116.9 L198.0,118.0 L196.5,117.8 L196.0,119.7 L194.7,119.8 L193.8,121.2 L192.5,121.4 L191.3,122.1 L189.9,121.9 L188.8,123.3 L187.5,123.0 L186.2,122.2 L184.9,122.6 L183.6,122.5 L182.3,121.2 L181.0,121.0 L179.6,121.2 L178.3,120.7 L177.0,120.5 L175.7,120.6 L174.4,120.3 L173.2,120.1 L172.0,119.8 L170.9,119.2 L169.6,119.0 L168.3,118.9 L166.9,118.8 L165.9,117.9 L164.7,117.4 L163.6,116.7 L162.8,115.6 L161.8,115.0 L160.6,114.7 L159.7,114.1 L158.8,113.6 L158.0,113.1 L156.6,112.3 L155.8,111.1 L155.0,110.0 L154.1,109.1 L153.3,108.0 L152.8,106.8 L152.6,105.4 L152.5,104.0 L153.0,103.0 L153.9,102.1 L154.5,101.1 L154.4,99.8 L154.6,98.5 L154.8,97.1 L155.4,95.9 L155.9,94.6 L156.7,93.5 L157.3,92.3 L157.7,91.1 L157.6,89.8 L158.0,88.6 L158.2,87.2 L158.9,86.2 L159.2,84.9 L160.1,84.0 L160.7,83.0 L160.9,81.8 L161.2,80.6 L162.3,79.9 L162.3,78.6 L162.5,77.3 L163.2,76.3 L163.7,75.3 L163.7,74.0 L164.7,73.1 L165.9,72.2 L166.6,71.0Z" fill="#9c8ad8" opacity="0.8" filter="url(#fb6)"/>
<path d="M176.1,68.0 L177.1,67.4 L178.2,66.8 L179.2,66.0 L180.6,65.9 L182.1,66.4 L183.3,65.6 L184.7,65.3 L186.1,65.5 L187.5,65.7 L188.7,64.7 L189.9,64.3 L191.1,64.1 L192.3,63.7 L193.3,64.0 L194.6,64.3 L195.8,65.0 L196.8,65.9 L197.6,66.8 L198.9,66.9 L199.3,68.3 L199.8,69.4 L201.1,69.9 L201.4,71.2 L201.7,72.5 L202.6,73.1 L203.3,73.9 L203.0,75.1 L204.2,76.0 L204.7,77.1 L205.3,78.3 L205.5,79.6 L206.3,80.8 L206.2,82.2 L205.6,83.6 L204.7,85.0 L204.0,86.3 L203.8,87.6 L204.0,88.8 L204.0,90.0 L204.3,91.2 L204.2,92.5 L203.7,93.8 L203.8,95.1 L204.4,96.4 L205.0,97.8 L205.7,99.3 L205.7,100.6 L204.3,101.7 L204.7,103.1 L203.7,104.1 L202.5,104.9 L202.6,106.1 L202.6,107.4 L201.2,107.7 L200.5,108.5 L199.9,109.6 L198.7,110.1 L197.7,110.9 L196.6,111.6 L195.3,112.1 L194.0,112.7 L192.7,113.1 L191.4,113.6 L190.0,113.9 L188.7,114.2 L187.3,113.8 L186.0,114.4 L184.8,113.6 L183.6,113.9 L182.3,113.6 L181.0,114.2 L179.8,113.9 L178.5,113.7 L177.2,113.4 L176.0,113.0 L174.7,113.1 L173.7,112.4 L172.5,112.1 L171.6,111.6 L170.1,112.1 L169.2,111.6 L167.9,111.4 L166.7,110.8 L165.6,110.0 L164.7,109.0 L164.5,107.4 L164.2,106.0 L163.6,104.8 L163.3,103.5 L162.9,102.3 L161.9,101.3 L161.3,100.4 L160.5,99.5 L159.5,98.6 L159.2,97.0 L159.6,95.5 L160.4,94.2 L161.5,93.2 L162.2,92.0 L163.5,91.3 L164.6,90.3 L165.1,89.1 L165.2,87.7 L165.7,86.6 L165.5,85.2 L165.6,84.0 L166.2,82.8 L166.8,81.7 L168.0,80.8 L169.0,79.7 L169.2,78.6 L169.5,77.4 L170.5,76.6 L171.1,75.5 L171.3,74.2 L172.5,73.4 L173.0,72.2 L173.3,70.8 L174.0,69.6 L175.5,69.4Z" fill="#9a72d0" opacity="0.95" filter="url(#fb8)"/>
<path d="M204.7,91.8C203.9,94.5 202.5,97.2 201.0,99.4C199.5,101.7 197.6,103.7 195.6,105.2C193.7,106.6 191.4,107.7 189.4,108.2C187.3,108.6 185.1,108.5 183.2,107.9C181.3,107.3 179.5,106.1 178.1,104.5C176.7,102.9 175.5,100.7 174.8,98.4C174.1,96.1 173.7,93.3 173.8,90.6C173.9,87.9 174.4,84.9 175.3,82.2C176.1,79.5 177.5,76.8 179.0,74.6C180.5,72.3 182.4,70.3 184.4,68.8C186.3,67.4 188.6,66.3 190.6,65.8C192.7,65.4 194.9,65.5 196.8,66.1C198.7,66.7 200.5,67.9 201.9,69.5C203.3,71.1 204.5,73.3 205.2,75.6C205.9,77.9 206.3,80.7 206.2,83.4C206.1,86.1 205.6,89.1 204.7,91.8Z" fill="#a866c4" opacity="1" filter="url(#fb12)"/>
<path d="M201.7,89.9C201.0,92.0 199.9,94.3 198.7,96.1C197.4,97.9 195.8,99.6 194.3,100.8C192.7,102.0 190.9,102.9 189.2,103.3C187.5,103.7 185.8,103.6 184.2,103.1C182.7,102.6 181.2,101.6 180.1,100.3C179.0,99.0 178.0,97.3 177.5,95.4C176.9,93.5 176.6,91.2 176.7,89.0C176.8,86.8 177.2,84.3 177.9,82.1C178.6,80.0 179.7,77.7 180.9,75.9C182.2,74.1 183.8,72.4 185.3,71.2C186.9,70.0 188.7,69.1 190.4,68.7C192.1,68.3 193.8,68.4 195.4,68.9C196.9,69.4 198.4,70.4 199.5,71.7C200.6,73.0 201.6,74.7 202.1,76.6C202.7,78.5 203.0,80.8 202.9,83.0C202.8,85.2 202.4,87.7 201.7,89.9Z" fill="#bc5fa8" opacity="1" filter="url(#fb12)"/>
<path d="M198.6,87.9C198.1,89.6 197.2,91.4 196.3,92.8C195.3,94.2 194.1,95.6 192.9,96.5C191.7,97.4 190.3,98.1 189.1,98.4C187.8,98.7 186.4,98.7 185.3,98.3C184.1,97.9 183.0,97.2 182.1,96.2C181.3,95.2 180.6,93.8 180.2,92.3C179.7,90.9 179.5,89.1 179.6,87.4C179.7,85.7 180.0,83.8 180.6,82.1C181.1,80.4 182.0,78.6 182.9,77.2C183.9,75.8 185.1,74.4 186.3,73.5C187.5,72.6 188.9,71.9 190.1,71.6C191.4,71.3 192.8,71.3 193.9,71.7C195.1,72.1 196.2,72.8 197.1,73.8C197.9,74.8 198.6,76.2 199.0,77.7C199.5,79.1 199.7,80.9 199.6,82.6C199.5,84.3 199.2,86.2 198.6,87.9Z" fill="#d26e8e" opacity="1" filter="url(#fb12)"/>
<path d="M196.3,86.7C195.8,88.0 195.2,89.4 194.4,90.5C193.7,91.6 192.8,92.7 191.9,93.4C191.0,94.2 190.0,94.7 189.0,95.0C188.1,95.2 187.1,95.2 186.2,95.0C185.4,94.7 184.5,94.1 183.9,93.3C183.3,92.6 182.8,91.5 182.5,90.4C182.2,89.2 182.1,87.8 182.1,86.5C182.2,85.2 182.5,83.7 182.9,82.3C183.4,81.0 184.0,79.6 184.8,78.5C185.5,77.4 186.4,76.3 187.3,75.6C188.2,74.8 189.2,74.3 190.2,74.0C191.1,73.8 192.1,73.8 193.0,74.0C193.8,74.3 194.7,74.9 195.3,75.7C195.9,76.4 196.4,77.5 196.7,78.6C197.0,79.8 197.1,81.2 197.1,82.5C197.0,83.8 196.7,85.3 196.3,86.7Z" fill="#e39468" opacity="1" filter="url(#fb10)"/>
<path d="M193.9,85.4C193.6,86.4 193.1,87.4 192.6,88.2C192.1,89.0 191.5,89.8 190.9,90.4C190.3,90.9 189.6,91.4 189.0,91.6C188.3,91.8 187.7,91.8 187.1,91.6C186.6,91.4 186.1,91.0 185.7,90.5C185.3,90.0 185.0,89.2 184.8,88.4C184.7,87.6 184.6,86.6 184.7,85.6C184.8,84.7 185.0,83.6 185.3,82.6C185.6,81.6 186.1,80.6 186.6,79.8C187.1,79.0 187.7,78.2 188.3,77.6C188.9,77.1 189.6,76.6 190.2,76.4C190.9,76.2 191.5,76.2 192.1,76.4C192.6,76.6 193.1,77.0 193.5,77.5C193.9,78.0 194.2,78.8 194.4,79.6C194.5,80.4 194.6,81.4 194.5,82.4C194.4,83.3 194.2,84.4 193.9,85.4Z" fill="#e8a456" opacity="1" filter="url(#fb10)"/>
<path d="M125.0,185.3 L125.4,184.6 L126.1,183.8 L127.3,183.3 L128.7,182.7 L130.1,181.9 L131.6,181.2 L132.5,180.6 L133.4,179.7 L134.4,179.1 L135.6,178.5 L136.4,177.4 L137.4,176.5 L138.4,175.6 L139.4,174.7 L140.5,173.8 L141.6,173.3 L142.8,172.8 L143.8,171.9 L145.0,171.4 L146.0,170.5 L147.2,170.1 L148.4,169.4 L149.8,169.2 L150.8,168.4 L152.0,167.8 L152.9,166.9 L154.1,166.5 L155.1,165.6 L156.3,165.3 L157.4,164.6 L158.4,163.8 L159.3,162.8 L160.4,162.3 L161.5,161.8 L162.6,161.0 L163.9,160.6 L165.0,160.0 L166.4,159.6 L167.5,158.7 L169.1,158.6 L170.3,157.9 L171.5,157.4 L172.5,156.6 L173.4,155.8 L174.1,155.0 L175.4,154.0 L176.4,153.2 L177.1,152.2 L178.3,151.8 L179.7,151.1 L180.9,151.2 L182.0,151.2 L183.2,151.3 L184.4,151.1 L185.7,150.7 L187.0,149.8 L188.4,149.9 L189.7,150.1 L191.1,150.1 L192.3,150.3 L193.6,150.6 L194.9,150.2 L196.3,150.3 L197.7,150.5 L199.0,151.3 L200.2,151.9 L201.5,152.1 L202.8,151.9 L204.0,152.3 L205.3,152.3 L206.8,152.3 L208.0,152.9 L209.1,153.7 L210.5,154.1 L211.7,154.8 L212.7,155.7 L213.7,156.6 L214.6,157.3 L215.5,158.1 L216.5,159.3 L217.8,160.3 L219.0,161.2 L220.1,162.2 L221.1,163.2 L222.0,164.2 L222.3,165.5 L222.2,167.0 L221.3,168.3 L220.3,169.4 L218.9,170.0 L217.4,170.5 L216.4,170.7 L215.5,171.2 L214.3,171.2 L213.2,171.8 L212.0,172.2 L210.7,172.3 L209.4,172.7 L208.0,173.2 L206.9,173.3 L205.8,173.6 L204.8,174.3 L203.7,174.9 L202.4,175.0 L201.1,175.1 L199.8,175.4 L198.5,175.6 L197.1,175.4 L196.0,175.9 L194.8,176.4 L193.6,176.9 L192.5,177.3 L191.4,177.9 L190.3,178.4 L189.1,178.8 L187.9,178.9 L186.7,179.3 L185.6,179.8 L184.3,179.9 L183.0,180.2 L181.8,180.7 L180.7,181.1 L179.5,181.6 L178.3,181.9 L177.1,182.4 L175.8,182.5 L174.4,182.5 L173.1,182.4 L171.8,182.9 L170.5,183.0 L169.2,183.3 L168.0,183.7 L166.8,184.2 L165.5,184.2 L164.3,184.8 L163.0,185.0 L161.7,185.5 L160.4,185.5 L159.1,185.5 L157.8,185.7 L156.6,186.2 L155.2,186.1 L154.0,186.5 L152.9,187.1 L151.7,187.1 L150.4,187.3 L149.1,187.7 L147.9,188.1 L146.7,188.7 L145.5,189.0 L144.3,189.4 L143.2,190.2 L142.1,190.5 L140.9,190.5 L139.8,190.7 L138.7,191.0 L137.2,190.9 L135.8,191.1 L134.3,191.1 L133.0,191.5 L131.7,191.4 L130.4,191.5 L129.4,191.0 L128.5,190.8 L127.3,189.8 L126.4,188.7 L125.8,187.4 L125.1,186.3Z" fill="none" stroke="#8f8ac0" stroke-width="2.2" opacity="0.45" filter="url(#fb16)"/>
<path d="M125.0,185.3 L125.4,184.6 L126.1,183.8 L127.3,183.3 L128.7,182.7 L130.1,181.9 L131.6,181.2 L132.5,180.6 L133.4,179.7 L134.4,179.1 L135.6,178.5 L136.4,177.4 L137.4,176.5 L138.4,175.6 L139.4,174.7 L140.5,173.8 L141.6,173.3 L142.8,172.8 L143.8,171.9 L145.0,171.4 L146.0,170.5 L147.2,170.1 L148.4,169.4 L149.8,169.2 L150.8,168.4 L152.0,167.8 L152.9,166.9 L154.1,166.5 L155.1,165.6 L156.3,165.3 L157.4,164.6 L158.4,163.8 L159.3,162.8 L160.4,162.3 L161.5,161.8 L162.6,161.0 L163.9,160.6 L165.0,160.0 L166.4,159.6 L167.5,158.7 L169.1,158.6 L170.3,157.9 L171.5,157.4 L172.5,156.6 L173.4,155.8 L174.1,155.0 L175.4,154.0 L176.4,153.2 L177.1,152.2 L178.3,151.8 L179.7,151.1 L180.9,151.2 L182.0,151.2 L183.2,151.3 L184.4,151.1 L185.7,150.7 L187.0,149.8 L188.4,149.9 L189.7,150.1 L191.1,150.1 L192.3,150.3 L193.6,150.6 L194.9,150.2 L196.3,150.3 L197.7,150.5 L199.0,151.3 L200.2,151.9 L201.5,152.1 L202.8,151.9 L204.0,152.3 L205.3,152.3 L206.8,152.3 L208.0,152.9 L209.1,153.7 L210.5,154.1 L211.7,154.8 L212.7,155.7 L213.7,156.6 L214.6,157.3 L215.5,158.1 L216.5,159.3 L217.8,160.3 L219.0,161.2 L220.1,162.2 L221.1,163.2 L222.0,164.2 L222.3,165.5 L222.2,167.0 L221.3,168.3 L220.3,169.4 L218.9,170.0 L217.4,170.5 L216.4,170.7 L215.5,171.2 L214.3,171.2 L213.2,171.8 L212.0,172.2 L210.7,172.3 L209.4,172.7 L208.0,173.2 L206.9,173.3 L205.8,173.6 L204.8,174.3 L203.7,174.9 L202.4,175.0 L201.1,175.1 L199.8,175.4 L198.5,175.6 L197.1,175.4 L196.0,175.9 L194.8,176.4 L193.6,176.9 L192.5,177.3 L191.4,177.9 L190.3,178.4 L189.1,178.8 L187.9,178.9 L186.7,179.3 L185.6,179.8 L184.3,179.9 L183.0,180.2 L181.8,180.7 L180.7,181.1 L179.5,181.6 L178.3,181.9 L177.1,182.4 L175.8,182.5 L174.4,182.5 L173.1,182.4 L171.8,182.9 L170.5,183.0 L169.2,183.3 L168.0,183.7 L166.8,184.2 L165.5,184.2 L164.3,184.8 L163.0,185.0 L161.7,185.5 L160.4,185.5 L159.1,185.5 L157.8,185.7 L156.6,186.2 L155.2,186.1 L154.0,186.5 L152.9,187.1 L151.7,187.1 L150.4,187.3 L149.1,187.7 L147.9,188.1 L146.7,188.7 L145.5,189.0 L144.3,189.4 L143.2,190.2 L142.1,190.5 L140.9,190.5 L139.8,190.7 L138.7,191.0 L137.2,190.9 L135.8,191.1 L134.3,191.1 L133.0,191.5 L131.7,191.4 L130.4,191.5 L129.4,191.0 L128.5,190.8 L127.3,189.8 L126.4,188.7 L125.8,187.4 L125.1,186.3Z" fill="#c3bbea" opacity="0.86"/>
<g clip-path="url(#cl3)">
<path d="M150.9,178.6C151.6,177.4 157.4,174.6 161.2,172.4C164.9,170.1 169.8,167.6 173.6,165.2C177.4,162.8 180.0,159.3 183.8,158.0C187.6,156.6 192.3,156.5 196.2,157.0C200.2,157.5 205.7,159.5 207.6,161.0C209.5,162.6 208.8,164.5 207.6,166.2C206.4,167.9 203.9,169.8 200.3,171.4C196.7,172.9 190.7,174.3 185.9,175.6C181.1,176.8 176.3,178.0 171.5,178.6C166.7,179.3 160.5,179.6 157.1,179.6C153.7,179.6 150.2,179.8 150.9,178.6Z" fill="#d4c0ec" opacity="0.9" filter="url(#fb30)"/>
<path d="M153.7,177.8C154.3,176.7 159.6,174.1 163.0,172.1C166.4,170.1 170.9,167.8 174.3,165.6C177.7,163.4 180.2,160.2 183.6,159.0C187.0,157.8 191.3,157.6 194.9,158.1C198.5,158.6 203.5,160.4 205.2,161.8C206.9,163.2 206.3,164.9 205.2,166.5C204.1,168.1 201.9,169.8 198.6,171.2C195.3,172.6 189.9,173.9 185.5,175.0C181.1,176.1 176.8,177.2 172.4,177.8C168.0,178.4 162.4,178.7 159.3,178.7C156.2,178.7 153.1,178.9 153.7,177.8Z" fill="#dcc4ec" opacity="0.9" filter="url(#fb25)"/>
<path d="M167.8,173.4C168.7,172.0 174.4,167.8 177.9,165.9C181.5,164.0 185.1,162.7 189.3,162.1C193.5,161.4 201.5,161.0 203.2,162.1C204.9,163.1 201.9,166.7 199.4,168.4C196.9,170.1 192.5,171.2 188.1,172.2C183.6,173.2 176.2,174.0 172.8,174.2C169.4,174.4 167.0,174.8 167.8,173.4Z" fill="#ead6dc" opacity="0.95" filter="url(#fb25)"/>
<path d="M172.4,172.1C173.0,171.1 177.2,167.9 179.9,166.5C182.6,165.1 185.2,164.2 188.3,163.7C191.4,163.2 197.3,162.9 198.6,163.7C199.8,164.5 197.7,167.2 195.8,168.4C193.9,169.7 190.7,170.5 187.4,171.2C184.1,171.9 178.6,172.5 176.1,172.7C173.6,172.8 171.8,173.1 172.4,172.1Z" fill="#f4eeb8" opacity="1" filter="url(#fb20)"/>
<path d="M177.6,170.6C178.0,170.0 180.6,168.1 182.1,167.2C183.7,166.4 185.3,165.8 187.2,165.6C189.1,165.3 192.6,165.1 193.4,165.6C194.1,166.0 192.8,167.6 191.7,168.4C190.6,169.1 188.6,169.6 186.6,170.1C184.7,170.5 181.4,170.9 179.9,171.0C178.4,171.0 177.3,171.2 177.6,170.6Z" fill="#f6f4b2" opacity="1" filter="url(#fb16)"/>
</g>
<path d="M125.0,185.3 L125.4,184.6 L126.1,183.8 L127.3,183.3 L128.7,182.7 L130.1,181.9 L131.6,181.2 L132.5,180.6 L133.4,179.7 L134.4,179.1 L135.6,178.5 L136.4,177.4 L137.4,176.5 L138.4,175.6 L139.4,174.7 L140.5,173.8 L141.6,173.3 L142.8,172.8 L143.8,171.9 L145.0,171.4 L146.0,170.5 L147.2,170.1 L148.4,169.4 L149.8,169.2 L150.8,168.4 L152.0,167.8 L152.9,166.9 L154.1,166.5 L155.1,165.6 L156.3,165.3 L157.4,164.6 L158.4,163.8 L159.3,162.8 L160.4,162.3 L161.5,161.8 L162.6,161.0 L163.9,160.6 L165.0,160.0 L166.4,159.6 L167.5,158.7 L169.1,158.6 L170.3,157.9 L171.5,157.4 L172.5,156.6 L173.4,155.8 L174.1,155.0 L175.4,154.0 L176.4,153.2 L177.1,152.2 L178.3,151.8 L179.7,151.1 L180.9,151.2 L182.0,151.2 L183.2,151.3 L184.4,151.1 L185.7,150.7 L187.0,149.8 L188.4,149.9 L189.7,150.1 L191.1,150.1 L192.3,150.3 L193.6,150.6 L194.9,150.2 L196.3,150.3 L197.7,150.5 L199.0,151.3 L200.2,151.9 L201.5,152.1 L202.8,151.9 L204.0,152.3 L205.3,152.3 L206.8,152.3 L208.0,152.9 L209.1,153.7 L210.5,154.1 L211.7,154.8 L212.7,155.7 L213.7,156.6 L214.6,157.3 L215.5,158.1 L216.5,159.3 L217.8,160.3 L219.0,161.2 L220.1,162.2 L221.1,163.2 L222.0,164.2 L222.3,165.5 L222.2,167.0 L221.3,168.3 L220.3,169.4 L218.9,170.0 L217.4,170.5 L216.4,170.7 L215.5,171.2 L214.3,171.2 L213.2,171.8 L212.0,172.2 L210.7,172.3 L209.4,172.7 L208.0,173.2 L206.9,173.3 L205.8,173.6 L204.8,174.3 L203.7,174.9 L202.4,175.0 L201.1,175.1 L199.8,175.4 L198.5,175.6 L197.1,175.4 L196.0,175.9 L194.8,176.4 L193.6,176.9 L192.5,177.3 L191.4,177.9 L190.3,178.4 L189.1,178.8 L187.9,178.9 L186.7,179.3 L185.6,179.8 L184.3,179.9 L183.0,180.2 L181.8,180.7 L180.7,181.1 L179.5,181.6 L178.3,181.9 L177.1,182.4 L175.8,182.5 L174.4,182.5 L173.1,182.4 L171.8,182.9 L170.5,183.0 L169.2,183.3 L168.0,183.7 L166.8,184.2 L165.5,184.2 L164.3,184.8 L163.0,185.0 L161.7,185.5 L160.4,185.5 L159.1,185.5 L157.8,185.7 L156.6,186.2 L155.2,186.1 L154.0,186.5 L152.9,187.1 L151.7,187.1 L150.4,187.3 L149.1,187.7 L147.9,188.1 L146.7,188.7 L145.5,189.0 L144.3,189.4 L143.2,190.2 L142.1,190.5 L140.9,190.5 L139.8,190.7 L138.7,191.0 L137.2,190.9 L135.8,191.1 L134.3,191.1 L133.0,191.5 L131.7,191.4 L130.4,191.5 L129.4,191.0 L128.5,190.8 L127.3,189.8 L126.4,188.7 L125.8,187.4 L125.1,186.3Z" fill="none" stroke="#7a74a6" stroke-width="0.55" stroke-opacity="0.8"/>
<path d="M153.6,177.8 L154.0,177.3 L154.7,176.8 L155.6,176.2 L156.7,175.6 L157.9,174.9 L159.2,174.2 L160.7,173.8 L161.9,173.0 L163.1,172.3 L164.3,172.0 L165.5,171.4 L166.5,170.5 L167.6,169.8 L168.8,169.2 L169.7,168.1 L170.9,167.5 L172.1,166.8 L173.1,166.0 L174.0,165.2 L175.2,164.6 L176.2,163.7 L177.3,163.0 L178.3,162.1 L179.3,161.4 L180.4,160.7 L181.4,160.0 L182.4,159.3 L183.6,158.9 L184.7,158.4 L186.0,158.2 L187.2,158.0 L188.5,158.0 L189.8,158.1 L191.1,158.3 L192.4,158.3 L193.7,157.9 L194.9,157.8 L196.2,157.9 L197.6,158.1 L199.0,158.4 L200.2,159.2 L201.4,159.8 L202.6,160.1 L203.7,160.6 L204.6,161.2 L205.1,161.9 L206.0,163.4 L205.8,164.8 L204.8,166.2 L204.1,166.9 L203.6,167.9 L202.7,168.9 L201.5,169.6 L200.2,170.6 L198.7,171.4 L197.7,171.7 L196.6,172.0 L195.6,172.7 L194.5,173.2 L193.2,173.6 L192.0,174.0 L190.7,174.3 L189.3,174.3 L188.0,174.4 L186.7,174.8 L185.5,174.9 L184.2,175.0 L183.0,175.2 L181.9,175.6 L180.7,176.1 L179.6,176.6 L178.4,177.0 L177.2,177.3 L176.0,177.4 L174.8,177.3 L173.5,177.2 L172.3,177.3 L171.0,177.6 L169.6,177.9 L168.2,178.0 L166.8,178.3 L165.4,178.8 L164.0,178.9 L162.7,178.9 L161.5,179.0 L160.3,178.8 L159.3,178.7 L157.0,178.6 L155.1,178.5 L154.0,178.1ZM172.3,172.1 L172.9,171.5 L173.7,170.8 L174.9,170.1 L176.3,169.3 L177.5,168.3 L178.9,167.5 L180.1,166.8 L181.0,165.9 L182.1,165.3 L183.3,164.9 L184.5,164.6 L185.7,164.2 L187.1,164.2 L188.4,164.3 L189.7,164.1 L191.1,163.8 L192.6,163.7 L194.2,163.5 L195.6,163.3 L196.9,163.5 L197.9,163.7 L198.3,164.0 L198.6,164.5 L198.1,165.7 L197.1,167.1 L195.8,168.3 L195.0,169.0 L193.9,169.5 L192.8,169.9 L191.5,170.3 L190.1,170.4 L188.8,170.8 L187.4,171.2 L186.2,171.5 L185.0,171.8 L183.6,172.2 L182.2,172.3 L180.8,172.4 L179.4,172.4 L178.2,172.5 L177.1,172.8 L176.1,173.0 L173.9,173.2 L172.4,173.1Z" fill="none" stroke="#8d7aa6" stroke-width="0.5" stroke-opacity="0.7"/>
<path d="M504.2,45.8 L503.5,45.4 L502.5,45.2 L501.5,44.9 L500.5,44.4 L499.4,44.1 L498.2,44.0 L496.9,43.7 L495.6,43.3 L494.2,43.6 L492.7,43.6 L491.2,43.1 L489.7,42.5 L488.6,42.8 L487.5,42.9 L486.4,43.2 L485.3,44.0 L484.2,44.4 L483.0,44.7 L481.7,44.9 L480.4,45.0 L479.1,45.1 L477.9,45.9 L476.5,45.9 L475.2,46.2 L473.8,46.2 L472.7,47.2 L471.4,47.3 L470.2,47.9 L469.0,48.3 L468.0,49.1 L466.7,49.0 L465.7,49.8 L464.7,50.5 L463.7,51.3 L462.6,51.8 L461.6,52.4 L460.5,53.1 L459.4,53.5 L458.3,54.1 L457.1,54.4 L456.0,55.0 L454.9,55.4 L453.9,56.2 L452.5,56.2 L451.7,57.1 L450.5,57.6 L449.5,58.1 L448.2,58.2 L447.4,59.4 L446.3,60.1 L445.2,60.8 L443.9,61.3 L442.8,62.0 L441.6,62.5 L440.4,62.9 L439.2,63.4 L437.9,63.7 L436.9,64.6 L435.7,64.9 L434.6,65.5 L433.5,66.0 L432.6,67.0 L431.3,67.1 L430.6,68.1 L429.6,68.5 L428.4,69.3 L427.3,70.2 L426.6,71.4 L425.6,72.2 L424.7,73.2 L423.8,74.0 L422.8,74.7 L421.8,75.3 L420.8,75.9 L420.1,76.9 L419.4,77.9 L418.6,78.8 L417.7,79.5 L416.8,80.5 L415.9,81.4 L415.1,82.5 L414.3,83.5 L413.5,84.5 L412.7,85.5 L411.9,86.6 L410.8,87.4 L410.3,88.5 L409.9,89.8 L409.4,90.9 L408.7,91.9 L408.6,93.4 L407.7,94.5 L407.5,95.9 L407.0,97.2 L406.3,98.4 L405.8,99.7 L405.4,100.8 L404.6,101.8 L404.2,102.9 L404.3,104.0 L404.1,105.5 L404.6,106.8 L405.2,107.9 L405.6,109.0 L405.8,110.1 L406.1,111.2 L406.6,112.4 L407.4,113.4 L408.5,114.0 L409.3,114.9 L410.3,115.8 L410.9,116.8 L411.5,117.9 L412.0,119.1 L413.0,119.9 L413.9,120.8 L414.7,121.8 L415.8,122.5 L416.9,123.1 L418.1,123.6 L419.1,124.4 L420.1,125.1 L421.1,125.9 L422.0,126.9 L423.1,127.5 L424.2,128.1 L425.5,128.3 L426.6,129.0 L427.9,129.4 L429.0,130.0 L430.3,129.9 L431.4,130.5 L432.7,130.5 L433.7,131.3 L434.8,132.0 L435.7,132.9 L436.7,133.3 L437.7,133.7 L439.1,133.6 L440.5,134.1 L442.4,134.2 L443.3,134.5 L444.5,134.4 L445.6,134.7 L447.0,134.6 L448.3,135.0 L449.7,135.0 L451.0,135.7 L452.4,136.1 L453.8,136.1 L455.1,136.1 L456.5,135.9 L457.7,135.8 L458.8,135.3 L460.1,135.4 L461.0,134.4 L462.2,134.3 L463.3,133.9 L464.4,133.3 L465.2,132.3 L466.7,132.5 L467.9,131.9 L469.1,131.2 L470.4,130.7 L471.8,130.0 L472.8,128.8 L473.2,127.7 L473.5,126.5 L474.2,125.6 L474.7,124.5 L475.2,123.4 L475.9,122.4 L476.8,121.5 L477.6,120.5 L478.3,119.4 L478.9,118.3 L480.0,117.4 L480.3,116.1 L480.6,114.7 L481.5,113.7 L482.8,113.0 L483.5,111.9 L484.6,111.2 L485.5,110.3 L486.5,109.4 L486.4,107.9 L486.6,106.5 L487.3,105.4 L488.5,104.7 L488.9,103.4 L489.9,102.6 L490.8,101.7 L491.2,100.5 L491.5,99.2 L492.5,98.4 L493.1,97.3 L493.8,96.3 L494.6,95.3 L495.1,94.2 L495.2,92.9 L495.9,92.0 L496.9,91.0 L497.3,89.8 L498.2,88.9 L498.4,87.6 L499.0,86.6 L499.2,85.3 L499.9,84.3 L499.9,83.0 L500.7,82.0 L500.8,80.7 L501.5,79.7 L502.1,78.6 L502.6,77.6 L503.0,76.4 L503.7,75.4 L504.0,74.3 L504.4,73.1 L504.6,71.8 L504.9,70.5 L504.9,69.1 L504.4,67.7 L504.2,66.3 L504.4,65.1 L504.4,63.8 L504.6,62.5 L505.5,61.4 L505.5,60.2 L505.4,59.1 L506.3,58.1 L506.4,57.0 L506.4,56.0 L506.8,54.3 L506.9,52.7 L506.4,51.2 L506.2,49.9 L506.1,48.6 L505.7,47.5 L505.2,46.5Z" fill="none" stroke="#8f8ac0" stroke-width="2.2" opacity="0.45" filter="url(#fb16)"/>
<path d="M504.2,45.8 L503.5,45.4 L502.5,45.2 L501.5,44.9 L500.5,44.4 L499.4,44.1 L498.2,44.0 L496.9,43.7 L495.6,43.3 L494.2,43.6 L492.7,43.6 L491.2,43.1 L489.7,42.5 L488.6,42.8 L487.5,42.9 L486.4,43.2 L485.3,44.0 L484.2,44.4 L483.0,44.7 L481.7,44.9 L480.4,45.0 L479.1,45.1 L477.9,45.9 L476.5,45.9 L475.2,46.2 L473.8,46.2 L472.7,47.2 L471.4,47.3 L470.2,47.9 L469.0,48.3 L468.0,49.1 L466.7,49.0 L465.7,49.8 L464.7,50.5 L463.7,51.3 L462.6,51.8 L461.6,52.4 L460.5,53.1 L459.4,53.5 L458.3,54.1 L457.1,54.4 L456.0,55.0 L454.9,55.4 L453.9,56.2 L452.5,56.2 L451.7,57.1 L450.5,57.6 L449.5,58.1 L448.2,58.2 L447.4,59.4 L446.3,60.1 L445.2,60.8 L443.9,61.3 L442.8,62.0 L441.6,62.5 L440.4,62.9 L439.2,63.4 L437.9,63.7 L436.9,64.6 L435.7,64.9 L434.6,65.5 L433.5,66.0 L432.6,67.0 L431.3,67.1 L430.6,68.1 L429.6,68.5 L428.4,69.3 L427.3,70.2 L426.6,71.4 L425.6,72.2 L424.7,73.2 L423.8,74.0 L422.8,74.7 L421.8,75.3 L420.8,75.9 L420.1,76.9 L419.4,77.9 L418.6,78.8 L417.7,79.5 L416.8,80.5 L415.9,81.4 L415.1,82.5 L414.3,83.5 L413.5,84.5 L412.7,85.5 L411.9,86.6 L410.8,87.4 L410.3,88.5 L409.9,89.8 L409.4,90.9 L408.7,91.9 L408.6,93.4 L407.7,94.5 L407.5,95.9 L407.0,97.2 L406.3,98.4 L405.8,99.7 L405.4,100.8 L404.6,101.8 L404.2,102.9 L404.3,104.0 L404.1,105.5 L404.6,106.8 L405.2,107.9 L405.6,109.0 L405.8,110.1 L406.1,111.2 L406.6,112.4 L407.4,113.4 L408.5,114.0 L409.3,114.9 L410.3,115.8 L410.9,116.8 L411.5,117.9 L412.0,119.1 L413.0,119.9 L413.9,120.8 L414.7,121.8 L415.8,122.5 L416.9,123.1 L418.1,123.6 L419.1,124.4 L420.1,125.1 L421.1,125.9 L422.0,126.9 L423.1,127.5 L424.2,128.1 L425.5,128.3 L426.6,129.0 L427.9,129.4 L429.0,130.0 L430.3,129.9 L431.4,130.5 L432.7,130.5 L433.7,131.3 L434.8,132.0 L435.7,132.9 L436.7,133.3 L437.7,133.7 L439.1,133.6 L440.5,134.1 L442.4,134.2 L443.3,134.5 L444.5,134.4 L445.6,134.7 L447.0,134.6 L448.3,135.0 L449.7,135.0 L451.0,135.7 L452.4,136.1 L453.8,136.1 L455.1,136.1 L456.5,135.9 L457.7,135.8 L458.8,135.3 L460.1,135.4 L461.0,134.4 L462.2,134.3 L463.3,133.9 L464.4,133.3 L465.2,132.3 L466.7,132.5 L467.9,131.9 L469.1,131.2 L470.4,130.7 L471.8,130.0 L472.8,128.8 L473.2,127.7 L473.5,126.5 L474.2,125.6 L474.7,124.5 L475.2,123.4 L475.9,122.4 L476.8,121.5 L477.6,120.5 L478.3,119.4 L478.9,118.3 L480.0,117.4 L480.3,116.1 L480.6,114.7 L481.5,113.7 L482.8,113.0 L483.5,111.9 L484.6,111.2 L485.5,110.3 L486.5,109.4 L486.4,107.9 L486.6,106.5 L487.3,105.4 L488.5,104.7 L488.9,103.4 L489.9,102.6 L490.8,101.7 L491.2,100.5 L491.5,99.2 L492.5,98.4 L493.1,97.3 L493.8,96.3 L494.6,95.3 L495.1,94.2 L495.2,92.9 L495.9,92.0 L496.9,91.0 L497.3,89.8 L498.2,88.9 L498.4,87.6 L499.0,86.6 L499.2,85.3 L499.9,84.3 L499.9,83.0 L500.7,82.0 L500.8,80.7 L501.5,79.7 L502.1,78.6 L502.6,77.6 L503.0,76.4 L503.7,75.4 L504.0,74.3 L504.4,73.1 L504.6,71.8 L504.9,70.5 L504.9,69.1 L504.4,67.7 L504.2,66.3 L504.4,65.1 L504.4,63.8 L504.6,62.5 L505.5,61.4 L505.5,60.2 L505.4,59.1 L506.3,58.1 L506.4,57.0 L506.4,56.0 L506.8,54.3 L506.9,52.7 L506.4,51.2 L506.2,49.9 L506.1,48.6 L505.7,47.5 L505.2,46.5Z" fill="#b1adda" opacity="0.86"/>
<g clip-path="url(#cl4)">
<path d="M440.3,90.4C441.1,85.5 443.4,76.8 447.1,72.3C450.9,67.7 457.7,65.0 463.0,63.1C468.3,61.3 475.1,59.8 478.9,60.9C482.7,62.1 485.0,65.4 485.7,70.0C486.5,74.5 485.7,83.2 483.4,88.1C481.2,93.0 476.6,96.4 472.1,99.4C467.6,102.5 461.2,105.9 456.3,106.3C451.3,106.6 445.3,104.4 442.6,101.8C440.0,99.1 439.6,95.3 440.3,90.4Z" fill="#cfbee4" opacity="0.9" filter="url(#fb30)"/>
<path d="M442.4,89.8C443.1,85.3 445.2,77.4 448.6,73.3C452.0,69.2 458.2,66.7 463.0,65.0C467.8,63.3 474.1,62.0 477.5,63.0C480.9,64.0 483.0,67.1 483.7,71.2C484.4,75.3 483.7,83.2 481.6,87.7C479.5,92.2 475.4,95.2 471.3,98.0C467.2,100.8 461.4,103.9 456.9,104.2C452.4,104.5 446.9,102.5 444.5,100.1C442.1,97.7 441.7,94.3 442.4,89.8Z" fill="#d6c4e2" opacity="0.9" filter="url(#fb25)"/>
<path d="M452.6,86.2C453.5,82.1 456.7,75.6 460.8,72.3C465.0,69.1 473.4,66.2 477.6,66.7C481.7,67.1 485.0,70.8 485.9,75.0C486.9,79.2 485.9,87.6 483.1,91.8C480.3,95.9 473.8,99.2 469.2,100.1C464.6,101.1 458.1,99.6 455.3,97.3C452.5,95.0 451.7,90.4 452.6,86.2Z" fill="#dcd4d8" opacity="0.95" filter="url(#fb25)"/>
<path d="M456.9,85.7C457.6,82.6 459.9,77.8 463.0,75.4C466.1,73.0 472.3,70.9 475.4,71.2C478.5,71.5 480.9,74.3 481.6,77.4C482.3,80.5 481.6,86.7 479.5,89.8C477.4,92.9 472.6,95.3 469.2,96.0C465.8,96.7 460.9,95.6 458.9,93.9C456.8,92.2 456.2,88.8 456.9,85.7Z" fill="#e0e6c8" opacity="1" filter="url(#fb20)"/>
<path d="M461.8,85.1C462.2,83.2 463.6,80.4 465.5,78.9C467.3,77.5 471.1,76.2 472.9,76.4C474.8,76.6 476.2,78.3 476.6,80.1C477.1,82.0 476.6,85.7 475.4,87.6C474.1,89.4 471.3,90.9 469.2,91.3C467.1,91.7 464.3,91.1 463.0,90.0C461.8,89.0 461.4,87.0 461.8,85.1Z" fill="#e2ecc4" opacity="1" filter="url(#fb16)"/>
</g>
<path d="M504.2,45.8 L503.5,45.4 L502.5,45.2 L501.5,44.9 L500.5,44.4 L499.4,44.1 L498.2,44.0 L496.9,43.7 L495.6,43.3 L494.2,43.6 L492.7,43.6 L491.2,43.1 L489.7,42.5 L488.6,42.8 L487.5,42.9 L486.4,43.2 L485.3,44.0 L484.2,44.4 L483.0,44.7 L481.7,44.9 L480.4,45.0 L479.1,45.1 L477.9,45.9 L476.5,45.9 L475.2,46.2 L473.8,46.2 L472.7,47.2 L471.4,47.3 L470.2,47.9 L469.0,48.3 L468.0,49.1 L466.7,49.0 L465.7,49.8 L464.7,50.5 L463.7,51.3 L462.6,51.8 L461.6,52.4 L460.5,53.1 L459.4,53.5 L458.3,54.1 L457.1,54.4 L456.0,55.0 L454.9,55.4 L453.9,56.2 L452.5,56.2 L451.7,57.1 L450.5,57.6 L449.5,58.1 L448.2,58.2 L447.4,59.4 L446.3,60.1 L445.2,60.8 L443.9,61.3 L442.8,62.0 L441.6,62.5 L440.4,62.9 L439.2,63.4 L437.9,63.7 L436.9,64.6 L435.7,64.9 L434.6,65.5 L433.5,66.0 L432.6,67.0 L431.3,67.1 L430.6,68.1 L429.6,68.5 L428.4,69.3 L427.3,70.2 L426.6,71.4 L425.6,72.2 L424.7,73.2 L423.8,74.0 L422.8,74.7 L421.8,75.3 L420.8,75.9 L420.1,76.9 L419.4,77.9 L418.6,78.8 L417.7,79.5 L416.8,80.5 L415.9,81.4 L415.1,82.5 L414.3,83.5 L413.5,84.5 L412.7,85.5 L411.9,86.6 L410.8,87.4 L410.3,88.5 L409.9,89.8 L409.4,90.9 L408.7,91.9 L408.6,93.4 L407.7,94.5 L407.5,95.9 L407.0,97.2 L406.3,98.4 L405.8,99.7 L405.4,100.8 L404.6,101.8 L404.2,102.9 L404.3,104.0 L404.1,105.5 L404.6,106.8 L405.2,107.9 L405.6,109.0 L405.8,110.1 L406.1,111.2 L406.6,112.4 L407.4,113.4 L408.5,114.0 L409.3,114.9 L410.3,115.8 L410.9,116.8 L411.5,117.9 L412.0,119.1 L413.0,119.9 L413.9,120.8 L414.7,121.8 L415.8,122.5 L416.9,123.1 L418.1,123.6 L419.1,124.4 L420.1,125.1 L421.1,125.9 L422.0,126.9 L423.1,127.5 L424.2,128.1 L425.5,128.3 L426.6,129.0 L427.9,129.4 L429.0,130.0 L430.3,129.9 L431.4,130.5 L432.7,130.5 L433.7,131.3 L434.8,132.0 L435.7,132.9 L436.7,133.3 L437.7,133.7 L439.1,133.6 L440.5,134.1 L442.4,134.2 L443.3,134.5 L444.5,134.4 L445.6,134.7 L447.0,134.6 L448.3,135.0 L449.7,135.0 L451.0,135.7 L452.4,136.1 L453.8,136.1 L455.1,136.1 L456.5,135.9 L457.7,135.8 L458.8,135.3 L460.1,135.4 L461.0,134.4 L462.2,134.3 L463.3,133.9 L464.4,133.3 L465.2,132.3 L466.7,132.5 L467.9,131.9 L469.1,131.2 L470.4,130.7 L471.8,130.0 L472.8,128.8 L473.2,127.7 L473.5,126.5 L474.2,125.6 L474.7,124.5 L475.2,123.4 L475.9,122.4 L476.8,121.5 L477.6,120.5 L478.3,119.4 L478.9,118.3 L480.0,117.4 L480.3,116.1 L480.6,114.7 L481.5,113.7 L482.8,113.0 L483.5,111.9 L484.6,111.2 L485.5,110.3 L486.5,109.4 L486.4,107.9 L486.6,106.5 L487.3,105.4 L488.5,104.7 L488.9,103.4 L489.9,102.6 L490.8,101.7 L491.2,100.5 L491.5,99.2 L492.5,98.4 L493.1,97.3 L493.8,96.3 L494.6,95.3 L495.1,94.2 L495.2,92.9 L495.9,92.0 L496.9,91.0 L497.3,89.8 L498.2,88.9 L498.4,87.6 L499.0,86.6 L499.2,85.3 L499.9,84.3 L499.9,83.0 L500.7,82.0 L500.8,80.7 L501.5,79.7 L502.1,78.6 L502.6,77.6 L503.0,76.4 L503.7,75.4 L504.0,74.3 L504.4,73.1 L504.6,71.8 L504.9,70.5 L504.9,69.1 L504.4,67.7 L504.2,66.3 L504.4,65.1 L504.4,63.8 L504.6,62.5 L505.5,61.4 L505.5,60.2 L505.4,59.1 L506.3,58.1 L506.4,57.0 L506.4,56.0 L506.8,54.3 L506.9,52.7 L506.4,51.2 L506.2,49.9 L506.1,48.6 L505.7,47.5 L505.2,46.5Z" fill="none" stroke="#7a74a6" stroke-width="0.55" stroke-opacity="0.8"/>
<path d="M442.7,89.8 L442.7,88.8 L443.0,87.7 L443.3,86.6 L443.2,85.3 L443.7,84.0 L444.2,82.8 L444.5,81.4 L444.9,80.1 L445.7,79.0 L446.1,77.6 L446.5,76.4 L447.2,75.3 L447.7,74.1 L448.4,73.1 L449.3,72.3 L450.3,71.5 L451.3,70.7 L452.5,70.0 L453.5,69.2 L454.7,68.6 L455.9,68.0 L457.1,67.4 L458.4,67.0 L459.6,66.6 L460.7,65.9 L461.9,65.5 L462.9,64.8 L464.1,64.2 L465.4,63.8 L466.7,63.6 L468.1,63.4 L469.5,63.2 L470.8,63.0 L472.0,62.7 L473.3,62.7 L474.5,62.4 L475.6,62.3 L476.7,62.3 L477.6,62.7 L478.9,63.0 L479.9,64.0 L480.8,65.0 L481.3,66.2 L481.8,67.3 L482.3,68.6 L482.7,69.9 L483.1,71.3 L483.4,72.3 L483.7,73.4 L483.8,74.6 L484.1,75.9 L484.2,77.2 L483.9,78.6 L483.6,80.0 L483.2,81.4 L482.7,82.7 L482.3,84.0 L482.1,85.3 L481.9,86.6 L481.8,87.8 L481.4,89.0 L480.7,90.0 L480.0,91.0 L479.1,91.9 L478.1,92.7 L477.2,93.4 L476.3,94.3 L475.3,95.1 L474.4,95.9 L473.5,96.8 L472.6,97.7 L471.5,98.3 L470.5,98.9 L469.3,99.2 L468.1,99.7 L466.8,100.0 L465.6,100.4 L464.5,101.1 L463.4,101.7 L462.3,102.3 L461.3,103.1 L460.2,103.6 L459.1,104.0 L458.0,104.2 L456.9,104.2 L455.5,104.0 L454.2,103.8 L452.8,103.3 L451.4,103.4 L450.1,102.7 L448.8,102.2 L447.6,101.8 L446.4,101.4 L445.5,100.6 L444.6,100.0 L443.7,99.1 L443.0,98.1 L442.6,97.0 L442.5,95.7 L442.1,94.4 L442.0,93.0 L442.1,91.4ZM457.2,85.8 L457.5,84.7 L457.8,83.5 L458.3,82.3 L458.8,81.0 L459.6,79.8 L460.3,78.5 L461.0,77.2 L461.9,76.1 L462.8,75.2 L464.0,74.6 L465.1,73.9 L466.5,73.4 L467.8,72.8 L469.2,72.4 L470.6,71.9 L472.0,71.9 L473.3,71.7 L474.4,71.7 L475.3,71.7 L476.6,71.8 L477.9,71.9 L479.1,72.6 L480.2,73.5 L481.0,74.6 L481.6,75.9 L481.9,77.3 L482.0,78.4 L482.0,79.6 L481.9,80.9 L481.9,82.2 L481.8,83.6 L481.7,85.1 L481.3,86.4 L480.8,87.7 L480.2,88.9 L479.6,89.9 L478.7,90.6 L477.8,91.4 L476.8,92.1 L475.7,92.7 L474.7,93.5 L473.6,94.3 L472.5,94.8 L471.4,95.5 L470.3,95.9 L469.2,95.9 L467.8,96.0 L466.4,96.1 L465.0,95.9 L463.6,95.7 L462.2,95.4 L460.9,95.1 L459.8,94.6 L458.8,94.1 L458.0,93.2 L457.4,92.1 L456.9,91.0 L456.5,89.7 L456.5,88.4 L456.5,87.0Z" fill="none" stroke="#8d7aa6" stroke-width="0.5" stroke-opacity="0.7"/>
<path d="M579.7,56.9 L581.0,56.7 L582.1,57.4 L583.1,58.3 L584.0,59.3 L584.8,60.6 L585.4,62.2 L586.4,63.4 L587.5,64.7 L588.2,65.5 L589.3,66.1 L590.3,66.9 L591.1,67.9 L591.7,69.0 L592.4,70.2 L592.9,71.4 L593.3,72.8 L594.0,73.9 L594.4,75.2 L594.9,76.5 L595.5,77.6 L595.8,78.9 L596.2,80.1 L596.7,81.1 L597.1,82.2 L597.4,83.4 L597.9,84.6 L598.1,85.8 L598.5,86.9 L598.9,88.1 L599.3,89.2 L599.5,90.4 L599.9,91.6 L600.2,92.8 L600.3,94.0 L600.5,95.2 L600.8,96.4 L600.8,97.7 L600.7,99.0 L601.2,100.3 L601.1,101.6 L601.0,102.9 L600.9,104.2 L601.2,105.5 L600.5,106.8 L600.1,108.0 L600.4,109.3 L600.4,110.5 L599.9,111.7 L600.0,113.0 L600.0,114.3 L599.3,115.5 L599.2,116.8 L598.9,118.1 L598.5,119.3 L598.3,120.5 L598.3,121.8 L597.7,122.9 L597.0,123.9 L596.6,125.0 L596.0,125.9 L595.4,127.1 L594.7,128.2 L594.4,129.5 L593.5,130.4 L592.5,131.2 L591.5,131.9 L590.7,132.8 L589.6,133.3 L588.7,134.0 L588.1,135.2 L587.0,135.9 L585.9,136.8 L584.7,137.6 L583.3,138.1 L581.9,138.3 L580.7,138.7 L579.5,138.8 L578.5,138.7 L577.7,138.6 L576.9,138.2 L576.2,137.5 L575.7,136.5 L575.0,135.4 L573.9,134.3 L573.1,133.0 L572.6,131.5 L571.8,130.1 L571.1,129.2 L570.9,128.1 L570.6,127.0 L570.4,125.9 L570.4,124.7 L570.4,123.5 L570.2,122.3 L570.1,121.0 L569.8,119.7 L569.2,118.5 L569.2,117.0 L569.2,115.5 L568.7,114.5 L568.1,113.5 L567.7,112.4 L566.9,111.3 L566.0,110.2 L565.6,109.0 L565.4,107.7 L564.9,106.5 L564.5,105.2 L564.3,103.9 L564.3,102.5 L564.0,101.3 L564.5,99.9 L564.7,98.6 L565.1,97.4 L564.9,96.2 L564.7,95.1 L564.3,93.8 L563.9,92.4 L563.4,91.1 L563.3,89.8 L563.6,88.5 L563.6,87.2 L564.0,86.0 L563.9,84.7 L563.8,83.5 L563.9,82.2 L564.4,81.1 L564.5,79.9 L564.8,78.7 L565.3,77.5 L565.6,76.3 L565.7,75.0 L565.9,73.7 L567.1,72.7 L567.4,71.5 L567.8,70.3 L568.4,69.2 L569.2,68.2 L569.3,66.9 L570.0,66.0 L570.9,65.3 L571.4,64.4 L572.2,63.2 L572.9,61.9 L573.8,60.8 L574.6,59.6 L575.6,58.8 L576.6,58.0 L577.7,57.6 L578.7,57.3Z" fill="none" stroke="#8f8ac0" stroke-width="2.2" opacity="0.45" filter="url(#fb16)"/>
<path d="M579.7,56.9 L581.0,56.7 L582.1,57.4 L583.1,58.3 L584.0,59.3 L584.8,60.6 L585.4,62.2 L586.4,63.4 L587.5,64.7 L588.2,65.5 L589.3,66.1 L590.3,66.9 L591.1,67.9 L591.7,69.0 L592.4,70.2 L592.9,71.4 L593.3,72.8 L594.0,73.9 L594.4,75.2 L594.9,76.5 L595.5,77.6 L595.8,78.9 L596.2,80.1 L596.7,81.1 L597.1,82.2 L597.4,83.4 L597.9,84.6 L598.1,85.8 L598.5,86.9 L598.9,88.1 L599.3,89.2 L599.5,90.4 L599.9,91.6 L600.2,92.8 L600.3,94.0 L600.5,95.2 L600.8,96.4 L600.8,97.7 L600.7,99.0 L601.2,100.3 L601.1,101.6 L601.0,102.9 L600.9,104.2 L601.2,105.5 L600.5,106.8 L600.1,108.0 L600.4,109.3 L600.4,110.5 L599.9,111.7 L600.0,113.0 L600.0,114.3 L599.3,115.5 L599.2,116.8 L598.9,118.1 L598.5,119.3 L598.3,120.5 L598.3,121.8 L597.7,122.9 L597.0,123.9 L596.6,125.0 L596.0,125.9 L595.4,127.1 L594.7,128.2 L594.4,129.5 L593.5,130.4 L592.5,131.2 L591.5,131.9 L590.7,132.8 L589.6,133.3 L588.7,134.0 L588.1,135.2 L587.0,135.9 L585.9,136.8 L584.7,137.6 L583.3,138.1 L581.9,138.3 L580.7,138.7 L579.5,138.8 L578.5,138.7 L577.7,138.6 L576.9,138.2 L576.2,137.5 L575.7,136.5 L575.0,135.4 L573.9,134.3 L573.1,133.0 L572.6,131.5 L571.8,130.1 L571.1,129.2 L570.9,128.1 L570.6,127.0 L570.4,125.9 L570.4,124.7 L570.4,123.5 L570.2,122.3 L570.1,121.0 L569.8,119.7 L569.2,118.5 L569.2,117.0 L569.2,115.5 L568.7,114.5 L568.1,113.5 L567.7,112.4 L566.9,111.3 L566.0,110.2 L565.6,109.0 L565.4,107.7 L564.9,106.5 L564.5,105.2 L564.3,103.9 L564.3,102.5 L564.0,101.3 L564.5,99.9 L564.7,98.6 L565.1,97.4 L564.9,96.2 L564.7,95.1 L564.3,93.8 L563.9,92.4 L563.4,91.1 L563.3,89.8 L563.6,88.5 L563.6,87.2 L564.0,86.0 L563.9,84.7 L563.8,83.5 L563.9,82.2 L564.4,81.1 L564.5,79.9 L564.8,78.7 L565.3,77.5 L565.6,76.3 L565.7,75.0 L565.9,73.7 L567.1,72.7 L567.4,71.5 L567.8,70.3 L568.4,69.2 L569.2,68.2 L569.3,66.9 L570.0,66.0 L570.9,65.3 L571.4,64.4 L572.2,63.2 L572.9,61.9 L573.8,60.8 L574.6,59.6 L575.6,58.8 L576.6,58.0 L577.7,57.6 L578.7,57.3Z" fill="#b9b2e0" opacity="0.86"/>
<g clip-path="url(#cl5)">
<path d="M579.7,68.3C581.8,68.5 585.1,74.2 586.6,78.6C588.1,83.1 588.9,90.0 588.7,95.1C588.5,100.3 587.2,105.1 585.5,109.4C583.8,113.7 580.4,120.9 578.4,120.9C576.4,120.9 574.6,114.4 573.4,109.4C572.3,104.4 571.4,96.2 571.6,90.8C571.7,85.5 572.8,81.1 574.2,77.3C575.6,73.5 577.6,68.1 579.7,68.3Z" fill="#cdb8e2" opacity="0.9" filter="url(#fb30)"/>
<path d="M579.7,70.6C581.6,70.8 584.6,75.9 586.0,80.0C587.4,84.1 588.1,90.3 587.9,95.0C587.7,99.7 586.6,104.1 585.0,108.0C583.4,111.9 580.3,118.4 578.5,118.4C576.7,118.4 575.0,112.5 574.0,108.0C573.0,103.5 572.2,96.0 572.3,91.1C572.4,86.2 573.5,82.2 574.7,78.8C575.9,75.4 577.8,70.4 579.7,70.6Z" fill="#d6bee2" opacity="0.9" filter="url(#fb25)"/>
<path d="M580.5,75.8C581.4,75.8 582.4,81.4 583.3,83.9C584.3,86.4 586.3,88.1 586.3,90.8C586.3,93.5 584.3,96.7 583.3,100.1C582.4,103.4 581.4,110.9 580.5,110.9C579.6,110.9 578.6,103.4 577.7,100.1C576.7,96.7 574.7,93.5 574.7,90.8C574.7,88.1 576.7,86.4 577.7,83.9C578.6,81.4 579.6,75.8 580.5,75.8Z" fill="#e0cad8" opacity="0.95" filter="url(#fb25)"/>
<path d="M580.5,80.0C581.2,80.0 581.9,84.2 582.6,86.0C583.3,87.8 584.8,89.1 584.8,91.1C584.8,93.1 583.3,95.5 582.6,98.0C581.9,100.5 581.2,106.0 580.5,106.0C579.8,106.0 579.1,100.5 578.4,98.0C577.7,95.5 576.2,93.1 576.2,91.1C576.2,89.1 577.7,87.8 578.4,86.0C579.1,84.2 579.8,80.0 580.5,80.0Z" fill="#ead8cc" opacity="1" filter="url(#fb20)"/>
<path d="M580.5,84.8C580.9,84.8 581.3,87.3 581.8,88.4C582.2,89.5 583.1,90.3 583.1,91.5C583.1,92.7 582.2,94.1 581.8,95.6C581.3,97.1 580.9,100.4 580.5,100.4C580.1,100.4 579.7,97.1 579.2,95.6C578.8,94.1 577.9,92.7 577.9,91.5C577.9,90.3 578.8,89.5 579.2,88.4C579.7,87.3 580.1,84.8 580.5,84.8Z" fill="#eedcc6" opacity="1" filter="url(#fb16)"/>
</g>
<path d="M579.7,56.9 L581.0,56.7 L582.1,57.4 L583.1,58.3 L584.0,59.3 L584.8,60.6 L585.4,62.2 L586.4,63.4 L587.5,64.7 L588.2,65.5 L589.3,66.1 L590.3,66.9 L591.1,67.9 L591.7,69.0 L592.4,70.2 L592.9,71.4 L593.3,72.8 L594.0,73.9 L594.4,75.2 L594.9,76.5 L595.5,77.6 L595.8,78.9 L596.2,80.1 L596.7,81.1 L597.1,82.2 L597.4,83.4 L597.9,84.6 L598.1,85.8 L598.5,86.9 L598.9,88.1 L599.3,89.2 L599.5,90.4 L599.9,91.6 L600.2,92.8 L600.3,94.0 L600.5,95.2 L600.8,96.4 L600.8,97.7 L600.7,99.0 L601.2,100.3 L601.1,101.6 L601.0,102.9 L600.9,104.2 L601.2,105.5 L600.5,106.8 L600.1,108.0 L600.4,109.3 L600.4,110.5 L599.9,111.7 L600.0,113.0 L600.0,114.3 L599.3,115.5 L599.2,116.8 L598.9,118.1 L598.5,119.3 L598.3,120.5 L598.3,121.8 L597.7,122.9 L597.0,123.9 L596.6,125.0 L596.0,125.9 L595.4,127.1 L594.7,128.2 L594.4,129.5 L593.5,130.4 L592.5,131.2 L591.5,131.9 L590.7,132.8 L589.6,133.3 L588.7,134.0 L588.1,135.2 L587.0,135.9 L585.9,136.8 L584.7,137.6 L583.3,138.1 L581.9,138.3 L580.7,138.7 L579.5,138.8 L578.5,138.7 L577.7,138.6 L576.9,138.2 L576.2,137.5 L575.7,136.5 L575.0,135.4 L573.9,134.3 L573.1,133.0 L572.6,131.5 L571.8,130.1 L571.1,129.2 L570.9,128.1 L570.6,127.0 L570.4,125.9 L570.4,124.7 L570.4,123.5 L570.2,122.3 L570.1,121.0 L569.8,119.7 L569.2,118.5 L569.2,117.0 L569.2,115.5 L568.7,114.5 L568.1,113.5 L567.7,112.4 L566.9,111.3 L566.0,110.2 L565.6,109.0 L565.4,107.7 L564.9,106.5 L564.5,105.2 L564.3,103.9 L564.3,102.5 L564.0,101.3 L564.5,99.9 L564.7,98.6 L565.1,97.4 L564.9,96.2 L564.7,95.1 L564.3,93.8 L563.9,92.4 L563.4,91.1 L563.3,89.8 L563.6,88.5 L563.6,87.2 L564.0,86.0 L563.9,84.7 L563.8,83.5 L563.9,82.2 L564.4,81.1 L564.5,79.9 L564.8,78.7 L565.3,77.5 L565.6,76.3 L565.7,75.0 L565.9,73.7 L567.1,72.7 L567.4,71.5 L567.8,70.3 L568.4,69.2 L569.2,68.2 L569.3,66.9 L570.0,66.0 L570.9,65.3 L571.4,64.4 L572.2,63.2 L572.9,61.9 L573.8,60.8 L574.6,59.6 L575.6,58.8 L576.6,58.0 L577.7,57.6 L578.7,57.3Z" fill="none" stroke="#7a74a6" stroke-width="0.55" stroke-opacity="0.8"/>
<path d="M579.7,71.2 L580.1,71.3 L580.7,71.8 L581.4,72.6 L582.4,73.4 L583.2,74.6 L583.9,76.0 L584.6,77.3 L585.3,78.7 L585.6,80.1 L586.2,81.1 L586.6,82.2 L586.8,83.4 L587.3,84.6 L587.6,85.9 L587.7,87.3 L587.6,88.6 L587.9,89.9 L588.3,91.2 L588.0,92.5 L588.0,93.8 L588.0,95.0 L587.8,96.3 L587.3,97.5 L587.4,98.7 L587.4,100.0 L587.1,101.2 L586.9,102.4 L586.6,103.6 L585.8,104.6 L585.4,105.7 L585.3,106.9 L585.1,108.1 L584.7,109.3 L584.5,110.9 L583.9,112.3 L583.0,113.6 L582.1,114.8 L581.4,116.0 L580.5,117.0 L579.9,117.9 L579.2,118.3 L578.5,118.4 L577.8,118.3 L577.2,117.7 L577.1,116.5 L576.6,115.4 L576.0,114.1 L575.8,112.6 L575.3,111.0 L574.5,109.5 L574.0,108.0 L573.6,107.0 L573.4,105.9 L573.1,104.8 L572.9,103.6 L572.8,102.3 L572.7,101.0 L572.2,99.7 L572.1,98.4 L572.3,97.1 L572.4,95.8 L572.3,94.5 L572.4,93.3 L572.5,92.2 L572.5,91.1 L572.4,89.7 L572.3,88.3 L572.5,86.9 L572.8,85.6 L573.0,84.4 L573.3,83.2 L573.7,82.1 L574.4,81.1 L574.5,79.9 L574.8,78.8 L575.2,77.4 L575.4,75.9 L575.9,74.5 L576.6,73.1 L577.3,72.0 L578.1,71.2 L579.0,70.7ZM580.5,80.1 L580.6,80.6 L581.2,81.6 L581.5,83.2 L582.0,84.7 L582.7,85.9 L583.6,87.1 L584.4,88.3 L584.7,89.7 L584.9,91.1 L584.7,92.1 L584.4,93.2 L583.9,94.3 L583.6,95.6 L583.1,96.8 L582.8,98.1 L582.4,99.5 L582.2,101.2 L581.7,103.0 L581.2,104.5 L580.6,105.5 L580.5,105.9 L580.5,105.4 L580.0,104.4 L579.5,102.9 L578.7,101.3 L578.3,99.5 L577.9,98.1 L577.6,96.9 L577.0,95.8 L576.8,94.4 L576.6,93.2 L576.4,92.1 L576.3,91.1 L576.5,89.7 L577.0,88.5 L577.6,87.2 L578.1,85.9 L578.6,84.6 L579.1,83.0 L579.4,81.5 L579.7,80.2Z" fill="none" stroke="#8d7aa6" stroke-width="0.5" stroke-opacity="0.7"/>
<path d="M461.5,133.0 L462.2,132.2 L462.8,131.4 L463.4,130.6 L463.6,129.4 L465.2,128.9 L466.2,127.9 L466.4,126.4 L467.1,125.1 L468.1,124.0 L468.8,122.7 L468.8,120.9 L469.6,119.7 L470.0,118.7 L471.0,117.9 L471.0,116.5 L471.8,115.5 L472.8,114.7 L473.7,113.8 L474.2,112.7 L474.9,111.6 L476.0,110.8 L476.7,109.7 L477.7,109.0 L478.7,108.2 L479.2,107.2 L479.5,106.0 L479.8,104.9 L480.1,103.2 L480.7,101.9 L481.9,101.1 L483.1,100.4 L484.3,99.7 L485.2,98.7 L486.3,98.1 L487.3,97.4 L488.3,96.7 L489.3,96.0 L490.4,95.4 L491.5,94.6 L492.1,93.2 L492.8,92.0 L493.5,90.9 L494.3,89.9 L494.3,88.0 L495.4,87.4 L496.5,86.5 L497.5,85.5 L498.6,85.0 L500.1,84.9 L501.1,84.3 L502.1,83.5 L503.2,82.9 L504.1,82.0 L504.8,80.9 L505.7,80.0 L506.7,79.2 L507.6,78.3 L508.7,77.8 L509.6,77.0 L510.5,76.1 L511.5,75.4 L512.9,75.2 L513.7,74.3 L515.2,74.2 L516.2,73.6 L516.9,72.6 L517.3,71.0 L518.6,70.6 L519.7,70.0 L520.8,69.2 L522.1,69.3 L523.5,69.3 L524.7,69.2 L525.7,68.1 L526.9,67.3 L528.3,67.3 L529.6,67.3 L530.9,66.8 L532.2,66.7 L533.6,67.6 L534.8,66.9 L536.0,66.7 L537.3,66.6 L538.7,66.5 L540.0,66.4 L541.4,66.8 L542.8,67.0 L544.2,66.5 L545.4,67.0 L546.7,66.8 L548.0,66.5 L549.2,66.8 L549.9,67.7 L550.7,68.4 L551.6,68.9 L552.8,69.5 L553.1,70.7 L553.8,71.8 L554.2,73.1 L554.3,74.5 L554.1,75.9 L554.9,77.3 L555.2,78.7 L555.2,80.1 L555.2,81.4 L554.9,82.7 L554.7,83.9 L554.4,84.9 L554.9,86.5 L554.9,87.8 L554.5,89.0 L554.8,90.1 L554.8,91.2 L554.7,92.3 L554.7,93.6 L555.0,95.0 L554.5,96.1 L554.9,97.2 L554.8,98.3 L555.2,99.5 L555.4,100.7 L555.7,102.0 L554.9,103.2 L555.1,104.5 L554.9,105.8 L554.7,107.1 L554.4,108.4 L554.8,109.8 L553.9,110.9 L553.2,112.0 L552.2,113.1 L552.2,114.4 L551.0,115.5 L550.4,116.7 L550.1,117.9 L550.4,119.3 L550.0,120.5 L550.1,121.8 L550.6,123.2 L550.8,124.6 L550.7,125.8 L550.5,127.0 L550.0,128.3 L549.2,129.5 L548.5,130.7 L547.6,131.8 L546.8,132.8 L546.3,134.0 L545.7,135.2 L545.0,136.3 L544.4,137.4 L543.6,138.3 L542.7,139.2 L541.9,140.3 L541.2,141.5 L540.4,142.6 L539.6,143.7 L538.6,144.5 L537.4,145.2 L536.2,145.8 L534.6,145.8 L533.2,146.1 L532.5,147.2 L531.3,147.8 L529.7,147.6 L528.7,148.6 L527.6,149.5 L526.0,149.2 L525.0,150.4 L524.2,152.0 L523.0,152.7 L521.8,153.0 L520.8,153.8 L519.3,153.7 L518.0,153.8 L516.8,153.6 L515.7,153.9 L514.5,153.9 L513.3,153.8 L512.0,153.4 L510.6,153.6 L509.5,153.5 L508.4,153.4 L507.3,153.3 L506.1,153.0 L504.8,153.0 L503.5,153.0 L502.3,152.3 L501.1,152.0 L499.8,151.9 L498.6,151.2 L497.3,151.0 L495.9,151.3 L494.5,151.6 L493.2,151.5 L492.0,151.0 L490.8,150.3 L489.9,149.0 L488.6,148.6 L487.4,148.2 L486.0,148.2 L484.8,147.8 L483.4,147.8 L482.5,146.7 L481.5,145.9 L480.4,145.1 L479.2,144.5 L478.0,143.8 L476.6,143.6 L475.5,142.8 L474.1,142.4 L473.2,141.5 L472.1,140.7 L471.3,139.7 L470.1,139.4 L469.4,138.5 L467.9,137.8 L466.3,137.2 L465.0,136.6 L463.9,135.7 L462.9,135.0 L462.0,134.3Z" fill="#8e89d6" opacity="0.42" stroke="#7b76b8" stroke-width="0.5" stroke-opacity="0.6"/>
<path d="M459.5,135.3 L459.1,135.1 L458.8,134.4 L458.8,133.4 L459.4,132.3 L459.1,130.9 L459.3,129.4 L460.0,128.1 L460.9,126.9 L461.4,125.4 L461.7,123.8 L461.9,122.7 L462.4,121.7 L463.0,120.7 L463.0,119.2 L464.2,118.6 L465.0,117.6 L466.0,116.8 L466.4,115.4 L467.6,114.7 L468.2,113.6 L469.7,113.1 L470.0,111.7 L471.1,110.9 L472.1,110.0 L472.9,109.2 L473.4,108.0 L475.0,107.8 L475.7,106.7 L476.2,105.5 L477.1,104.7 L477.4,103.3 L477.8,102.0 L478.6,101.1 L480.0,100.5 L481.2,100.0 L482.7,99.7 L483.4,98.7 L484.3,97.9 L484.5,96.4 L484.7,95.0 L485.2,93.6 L486.1,92.7 L486.8,91.7 L488.0,91.1 L489.0,90.3 L490.0,89.6 L491.0,88.8 L492.8,88.9 L493.6,88.1 L493.9,86.7 L494.9,86.0 L495.7,85.3 L495.7,83.7 L496.2,82.2 L497.8,81.9 L498.8,80.9 L500.0,80.2 L501.0,79.3 L502.6,79.1 L503.5,78.3 L503.9,77.1 L504.2,75.7 L505.0,75.2 L505.7,74.6 L507.9,74.1 L509.4,73.8 L510.2,74.0 L510.8,74.1 L511.3,74.7 L511.3,75.7 L510.2,76.7 L510.0,78.1 L509.0,79.3 L509.0,81.0 L508.0,82.3 L507.6,83.8 L506.5,84.4 L506.3,85.5 L505.3,86.2 L505.2,87.5 L505.0,88.9 L504.2,89.8 L503.2,90.7 L502.0,91.3 L501.2,92.3 L500.1,93.1 L499.9,94.4 L500.4,96.3 L499.7,97.2 L499.1,98.3 L498.8,99.6 L498.1,100.5 L496.8,101.1 L496.3,102.2 L495.9,103.4 L494.8,104.1 L494.3,105.2 L493.3,106.0 L493.0,107.2 L491.9,108.0 L490.9,108.7 L489.7,109.3 L489.2,110.5 L488.4,111.4 L488.1,112.6 L487.6,113.7 L487.5,115.1 L486.9,116.1 L485.6,116.7 L484.8,117.7 L485.1,119.3 L484.1,120.0 L483.4,121.1 L483.4,122.5 L482.9,123.7 L481.5,124.3 L480.9,125.4 L479.8,126.2 L479.0,127.2 L477.9,127.9 L477.1,128.8 L477.0,130.1 L476.3,130.9 L475.4,131.5 L474.3,132.5 L473.7,133.8 L472.0,133.8 L471.3,134.9 L470.8,136.1 L470.3,137.4 L469.1,137.6 L468.1,138.4 L466.8,138.5 L465.3,138.4 L463.8,138.4 L462.2,138.4 L460.7,138.3 L459.6,137.3 L458.8,136.6Z" fill="#7f79c8" opacity="0.45" filter="url(#fb6)"/>
<path d="M505.3,83.8 L506.4,83.3 L507.8,83.3 L509.0,82.7 L510.3,82.4 L511.7,82.2 L512.4,81.1 L513.1,79.8 L513.9,78.6 L514.9,77.7 L516.0,76.9 L517.2,76.4 L518.6,76.4 L520.0,76.2 L521.3,76.1 L522.3,75.2 L523.8,75.9 L524.9,75.0 L526.1,74.5 L527.4,73.9 L528.8,74.0 L530.0,72.8 L531.4,72.5 L532.7,72.1 L534.1,72.0 L535.4,71.5 L536.7,71.8 L537.9,72.3 L538.9,72.8 L539.9,73.5 L540.9,74.3 L542.1,74.8 L543.2,75.3 L543.9,76.4 L544.7,77.3 L545.0,78.5 L545.9,79.3 L546.5,80.3 L547.4,81.1 L548.3,82.0 L549.4,82.9 L549.6,84.0 L549.6,85.1 L550.0,86.2 L550.3,87.3 L549.4,88.6 L549.9,89.8 L550.0,91.1 L549.4,92.4 L549.9,93.7 L550.2,95.0 L550.1,96.3 L550.1,97.6 L551.0,98.9 L549.8,99.9 L550.0,101.2 L549.8,102.5 L550.1,103.8 L548.9,105.0 L549.1,106.2 L549.4,107.5 L548.9,108.7 L548.4,109.8 L548.3,111.0 L548.4,112.3 L547.1,113.2 L546.7,114.4 L546.1,115.5 L545.7,116.7 L545.5,117.9 L545.6,119.4 L545.4,120.8 L544.8,121.9 L544.5,123.3 L543.3,124.2 L542.4,125.1 L541.1,125.8 L540.0,126.5 L539.2,127.3 L538.5,128.3 L537.2,128.7 L536.7,129.9 L535.9,130.9 L534.5,131.1 L533.6,131.9 L532.8,133.0 L531.8,133.7 L530.9,134.7 L529.9,135.4 L528.9,136.2 L527.8,136.8 L526.6,137.2 L525.5,137.7 L524.4,138.5 L523.0,138.4 L521.8,138.8 L520.6,139.3 L519.1,138.6 L517.9,138.9 L516.7,139.3 L515.4,139.1 L514.1,138.8 L513.0,139.7 L511.7,139.1 L510.5,140.0 L509.3,140.1 L508.0,140.5 L506.8,139.2 L505.6,139.6 L504.5,138.5 L503.2,138.9 L502.0,138.8 L500.7,139.3 L499.4,139.8 L498.1,139.9 L496.9,139.0 L495.6,138.6 L494.7,137.2 L493.9,135.8 L492.6,135.3 L491.5,134.7 L490.4,133.9 L489.1,133.7 L487.8,133.2 L487.2,132.1 L486.4,131.4 L485.4,130.5 L483.9,129.8 L483.4,128.5 L483.7,127.0 L483.3,125.7 L483.4,124.3 L484.3,122.9 L485.3,121.6 L485.0,120.1 L485.4,119.2 L485.8,118.2 L485.9,117.0 L485.7,115.7 L486.0,114.4 L486.5,113.1 L486.9,111.9 L487.4,110.6 L488.5,109.7 L489.1,108.6 L489.3,107.3 L489.1,105.8 L490.1,105.1 L490.4,103.7 L491.3,102.7 L492.2,101.8 L493.8,101.5 L493.8,100.1 L494.0,98.9 L494.7,98.0 L495.5,97.1 L495.6,95.6 L496.1,94.5 L497.6,94.1 L497.6,92.6 L498.5,91.8 L499.6,91.1 L500.8,90.5 L501.3,89.3 L502.8,89.1 L503.4,87.8 L504.6,87.2 L505.8,86.5Z" fill="#9c8ad8" opacity="0.85" filter="url(#fb6)"/>
<path d="M503.6,85.8 L504.1,84.8 L504.7,83.7 L505.2,82.4 L506.3,81.8 L507.3,81.1 L508.6,80.9 L510.3,81.2 L511.4,80.8 L512.7,80.5 L514.1,80.6 L515.1,79.8 L515.7,78.1 L516.8,77.5 L517.7,76.5 L518.6,75.4 L519.8,75.5 L521.2,75.6 L522.5,75.6 L523.9,76.1 L525.0,75.4 L526.2,74.8 L527.6,74.9 L528.8,74.5 L530.1,74.1 L531.3,74.2 L532.6,73.7 L533.8,73.7 L534.9,74.3 L536.1,73.9 L537.3,73.5 L538.1,74.6 L539.3,75.2 L540.4,75.8 L541.2,76.9 L541.6,78.3 L542.6,79.0 L543.9,79.5 L544.8,80.4 L545.4,81.5 L545.6,82.9 L546.8,83.7 L547.4,84.9 L548.6,85.8 L548.8,86.8 L550.0,87.7 L549.9,89.0 L550.0,90.2 L549.9,91.5 L550.2,92.7 L549.7,94.0 L549.1,95.3 L548.6,96.6 L548.3,97.9 L548.0,99.1 L548.0,100.3 L548.9,101.6 L548.9,102.8 L548.5,104.0 L548.5,105.3 L548.4,106.6 L548.4,107.9 L548.5,109.2 L548.6,110.6 L548.2,111.8 L548.0,113.1 L547.3,114.2 L546.7,115.4 L546.3,116.5 L546.0,117.7 L545.6,118.9 L545.3,120.2 L544.9,121.3 L544.4,122.4 L543.9,123.6 L542.7,124.2 L541.4,124.7 L540.3,125.4 L539.4,126.2 L538.5,127.0 L537.9,128.3 L537.3,129.5 L536.7,130.8 L535.9,131.8 L534.8,132.4 L533.5,132.8 L532.1,132.7 L531.1,133.3 L529.8,133.5 L528.7,133.9 L527.8,135.0 L526.7,135.7 L525.3,135.3 L524.2,135.9 L523.0,136.3 L521.6,136.0 L520.6,136.8 L519.5,137.5 L518.3,137.7 L517.2,138.4 L516.0,138.4 L514.8,138.6 L513.6,138.9 L512.3,138.4 L511.0,138.0 L509.7,138.2 L508.5,137.2 L507.4,135.6 L506.1,136.2 L505.0,135.8 L503.8,135.8 L502.5,136.2 L501.1,136.9 L500.1,136.3 L498.9,136.2 L498.0,135.1 L497.0,134.3 L495.8,133.9 L494.7,133.2 L493.6,132.6 L492.4,132.0 L491.4,131.2 L491.0,129.8 L489.9,129.1 L489.6,127.8 L488.8,126.9 L488.7,125.7 L487.9,124.8 L487.7,123.7 L487.3,122.6 L487.8,121.3 L487.2,120.1 L487.1,118.9 L487.4,117.6 L487.4,116.3 L486.5,115.0 L486.6,113.7 L486.9,112.4 L486.6,111.2 L486.6,109.9 L487.4,108.9 L487.4,107.6 L487.8,106.5 L488.3,105.4 L489.0,104.3 L489.3,103.1 L489.7,101.9 L490.1,100.7 L490.9,99.7 L491.2,98.4 L491.7,97.3 L492.7,96.5 L493.3,95.6 L494.2,94.6 L494.5,93.2 L495.7,92.5 L496.2,91.3 L497.3,90.6 L497.9,89.4 L498.8,88.5 L499.8,87.6 L500.5,86.5 L501.5,85.5Z" fill="#9c76cf" opacity="0.95" filter="url(#fb6)"/>
<path d="M544.0,111.5C542.3,114.4 540.1,117.2 537.7,119.4C535.4,121.6 532.6,123.5 529.9,124.6C527.3,125.8 524.4,126.5 521.8,126.4C519.2,126.4 516.6,125.7 514.5,124.5C512.4,123.3 510.5,121.4 509.2,119.2C507.9,116.9 507.0,114.1 506.7,111.2C506.4,108.3 506.6,105.0 507.3,101.8C508.1,98.7 509.4,95.4 511.0,92.5C512.7,89.6 514.9,86.8 517.3,84.6C519.6,82.4 522.4,80.5 525.1,79.4C527.7,78.2 530.6,77.5 533.2,77.6C535.8,77.6 538.4,78.3 540.5,79.5C542.6,80.7 544.5,82.6 545.8,84.8C547.1,87.1 548.0,89.9 548.3,92.8C548.6,95.7 548.4,99.0 547.7,102.2C546.9,105.3 545.6,108.6 544.0,111.5Z" fill="#a86ac4" opacity="1" filter="url(#fb12)"/>
<path d="M541.3,107.3C540.1,109.6 538.5,111.8 536.7,113.5C535.0,115.3 532.9,116.8 530.9,117.8C528.9,118.8 526.7,119.4 524.7,119.4C522.8,119.5 520.7,119.0 519.1,118.2C517.5,117.3 516.0,115.9 514.9,114.2C513.9,112.5 513.1,110.4 512.8,108.2C512.5,106.0 512.6,103.4 513.1,101.0C513.6,98.6 514.5,95.9 515.7,93.7C516.9,91.4 518.5,89.2 520.3,87.5C522.0,85.7 524.1,84.2 526.1,83.2C528.1,82.2 530.3,81.6 532.3,81.6C534.2,81.5 536.3,82.0 537.9,82.8C539.5,83.7 541.0,85.1 542.1,86.8C543.1,88.5 543.9,90.6 544.2,92.8C544.5,95.0 544.4,97.6 543.9,100.0C543.4,102.4 542.5,105.1 541.3,107.3Z" fill="#b8639f" opacity="0.95" filter="url(#fb12)"/>
<path d="M538.6,103.2C537.8,104.8 536.7,106.5 535.6,107.8C534.5,109.0 533.1,110.2 531.7,111.0C530.4,111.7 528.9,112.2 527.5,112.3C526.1,112.5 524.7,112.2 523.6,111.7C522.4,111.1 521.3,110.2 520.6,109.1C519.8,108.0 519.2,106.5 518.9,105.0C518.6,103.5 518.6,101.7 518.9,100.0C519.1,98.2 519.7,96.4 520.4,94.8C521.2,93.2 522.3,91.5 523.4,90.2C524.5,89.0 525.9,87.8 527.3,87.0C528.6,86.3 530.1,85.8 531.5,85.7C532.9,85.5 534.3,85.8 535.4,86.3C536.6,86.9 537.7,87.8 538.4,88.9C539.2,90.0 539.8,91.5 540.1,93.0C540.4,94.5 540.4,96.3 540.1,98.0C539.9,99.8 539.3,101.6 538.6,103.2Z" fill="#c96f94" opacity="1" filter="url(#fb12)"/>
<path d="M536.3,101.5C535.8,102.7 535.0,103.9 534.2,104.9C533.3,105.9 532.3,106.7 531.3,107.3C530.4,107.9 529.3,108.3 528.3,108.4C527.4,108.5 526.4,108.4 525.6,108.0C524.8,107.6 524.0,107.0 523.5,106.2C522.9,105.3 522.5,104.3 522.4,103.1C522.2,102.0 522.2,100.7 522.4,99.4C522.7,98.1 523.1,96.8 523.7,95.5C524.2,94.3 525.0,93.1 525.8,92.1C526.7,91.1 527.7,90.3 528.7,89.7C529.6,89.1 530.7,88.7 531.7,88.6C532.6,88.5 533.6,88.6 534.4,89.0C535.2,89.4 536.0,90.0 536.5,90.8C537.1,91.7 537.5,92.7 537.6,93.9C537.8,95.0 537.8,96.3 537.6,97.6C537.3,98.9 536.9,100.2 536.3,101.5Z" fill="#d8866f" opacity="1" filter="url(#fb10)"/>
<path d="M534.6,99.9C534.2,100.8 533.6,101.7 533.1,102.4C532.5,103.1 531.8,103.7 531.1,104.2C530.5,104.6 529.8,104.9 529.1,105.0C528.5,105.1 527.9,105.0 527.3,104.8C526.8,104.6 526.3,104.1 526.0,103.6C525.7,103.0 525.5,102.2 525.4,101.5C525.3,100.7 525.3,99.7 525.5,98.8C525.7,98.0 526.0,97.0 526.4,96.1C526.8,95.2 527.4,94.3 527.9,93.6C528.5,92.9 529.2,92.3 529.9,91.8C530.5,91.4 531.2,91.1 531.9,91.0C532.5,90.9 533.1,91.0 533.7,91.2C534.2,91.4 534.7,91.9 535.0,92.4C535.3,93.0 535.5,93.8 535.6,94.5C535.7,95.3 535.7,96.3 535.5,97.2C535.3,98.0 535.0,99.0 534.6,99.9Z" fill="#e09a60" opacity="1" filter="url(#fb10)"/>
<path d="M461.2,189.3 L462.0,189.1 L462.9,188.9 L463.6,188.3 L464.7,187.8 L465.9,187.4 L466.8,186.4 L467.9,185.4 L469.2,184.8 L470.4,184.1 L471.7,183.5 L472.5,182.7 L473.5,182.0 L474.6,181.5 L475.9,181.5 L477.1,181.0 L478.2,180.4 L479.6,180.2 L480.6,179.3 L481.6,178.5 L482.7,177.8 L483.9,177.4 L484.9,176.6 L486.1,176.2 L487.1,175.5 L488.1,174.6 L489.1,173.8 L490.1,173.2 L491.1,172.5 L492.1,171.7 L493.1,171.0 L494.4,170.7 L495.4,170.1 L496.2,169.2 L497.2,168.3 L498.3,167.9 L499.3,167.2 L500.3,166.4 L501.5,166.2 L502.6,165.9 L503.7,165.2 L504.7,164.5 L505.9,164.3 L506.9,163.4 L508.1,163.1 L509.1,162.3 L510.1,161.7 L511.3,161.2 L512.4,160.9 L513.5,160.3 L514.8,160.0 L516.0,159.5 L517.2,159.3 L518.4,158.8 L519.7,158.6 L521.0,158.6 L522.2,158.2 L523.3,157.7 L524.6,157.7 L525.8,157.5 L526.9,157.0 L528.2,156.7 L529.4,156.7 L530.7,156.9 L532.0,157.0 L533.2,157.1 L534.5,157.5 L535.7,157.7 L537.0,157.4 L538.2,157.2 L539.3,157.5 L540.5,157.5 L541.5,157.6 L543.0,158.1 L544.5,158.6 L545.9,159.0 L547.2,159.3 L548.5,159.6 L549.7,159.9 L550.8,160.2 L551.8,160.4 L552.8,161.4 L553.6,162.4 L554.2,163.4 L554.7,164.4 L554.4,165.6 L554.3,166.6 L554.1,167.8 L553.4,169.0 L552.2,170.0 L551.4,171.3 L550.1,172.2 L549.4,173.0 L548.7,173.8 L547.9,174.5 L547.0,175.3 L546.2,176.3 L545.0,176.7 L543.8,177.2 L542.7,178.1 L541.3,178.6 L540.4,178.9 L539.4,179.3 L538.4,179.6 L537.2,179.9 L536.1,180.2 L535.1,181.1 L533.8,181.3 L532.7,181.8 L531.4,181.9 L530.1,182.1 L528.7,181.8 L527.4,182.1 L526.1,182.1 L524.9,182.6 L523.8,183.2 L522.7,183.8 L521.6,184.5 L520.3,184.8 L519.2,185.4 L518.0,185.7 L516.6,185.4 L515.3,185.1 L514.0,185.3 L512.8,185.5 L511.5,185.3 L510.2,185.6 L509.0,186.2 L507.8,186.3 L506.5,186.1 L505.3,186.5 L504.0,186.8 L502.6,186.2 L501.3,186.2 L500.1,186.6 L498.7,186.4 L497.5,186.8 L496.3,187.5 L495.1,188.0 L493.8,188.1 L492.6,188.2 L491.3,188.1 L490.1,188.1 L489.0,188.3 L487.9,188.7 L486.6,189.3 L485.3,189.7 L483.9,189.9 L482.6,190.1 L481.3,190.0 L480.1,190.3 L478.9,190.7 L477.9,191.6 L476.8,192.0 L475.7,192.3 L474.5,192.2 L473.5,192.3 L471.9,192.2 L470.4,191.9 L469.0,191.9 L467.6,192.1 L466.3,192.0 L465.1,192.0 L464.1,192.2 L463.1,192.3 L460.6,191.3Z" fill="none" stroke="#8f8ac0" stroke-width="2.2" opacity="0.45" filter="url(#fb16)"/>
<path d="M461.2,189.3 L462.0,189.1 L462.9,188.9 L463.6,188.3 L464.7,187.8 L465.9,187.4 L466.8,186.4 L467.9,185.4 L469.2,184.8 L470.4,184.1 L471.7,183.5 L472.5,182.7 L473.5,182.0 L474.6,181.5 L475.9,181.5 L477.1,181.0 L478.2,180.4 L479.6,180.2 L480.6,179.3 L481.6,178.5 L482.7,177.8 L483.9,177.4 L484.9,176.6 L486.1,176.2 L487.1,175.5 L488.1,174.6 L489.1,173.8 L490.1,173.2 L491.1,172.5 L492.1,171.7 L493.1,171.0 L494.4,170.7 L495.4,170.1 L496.2,169.2 L497.2,168.3 L498.3,167.9 L499.3,167.2 L500.3,166.4 L501.5,166.2 L502.6,165.9 L503.7,165.2 L504.7,164.5 L505.9,164.3 L506.9,163.4 L508.1,163.1 L509.1,162.3 L510.1,161.7 L511.3,161.2 L512.4,160.9 L513.5,160.3 L514.8,160.0 L516.0,159.5 L517.2,159.3 L518.4,158.8 L519.7,158.6 L521.0,158.6 L522.2,158.2 L523.3,157.7 L524.6,157.7 L525.8,157.5 L526.9,157.0 L528.2,156.7 L529.4,156.7 L530.7,156.9 L532.0,157.0 L533.2,157.1 L534.5,157.5 L535.7,157.7 L537.0,157.4 L538.2,157.2 L539.3,157.5 L540.5,157.5 L541.5,157.6 L543.0,158.1 L544.5,158.6 L545.9,159.0 L547.2,159.3 L548.5,159.6 L549.7,159.9 L550.8,160.2 L551.8,160.4 L552.8,161.4 L553.6,162.4 L554.2,163.4 L554.7,164.4 L554.4,165.6 L554.3,166.6 L554.1,167.8 L553.4,169.0 L552.2,170.0 L551.4,171.3 L550.1,172.2 L549.4,173.0 L548.7,173.8 L547.9,174.5 L547.0,175.3 L546.2,176.3 L545.0,176.7 L543.8,177.2 L542.7,178.1 L541.3,178.6 L540.4,178.9 L539.4,179.3 L538.4,179.6 L537.2,179.9 L536.1,180.2 L535.1,181.1 L533.8,181.3 L532.7,181.8 L531.4,181.9 L530.1,182.1 L528.7,181.8 L527.4,182.1 L526.1,182.1 L524.9,182.6 L523.8,183.2 L522.7,183.8 L521.6,184.5 L520.3,184.8 L519.2,185.4 L518.0,185.7 L516.6,185.4 L515.3,185.1 L514.0,185.3 L512.8,185.5 L511.5,185.3 L510.2,185.6 L509.0,186.2 L507.8,186.3 L506.5,186.1 L505.3,186.5 L504.0,186.8 L502.6,186.2 L501.3,186.2 L500.1,186.6 L498.7,186.4 L497.5,186.8 L496.3,187.5 L495.1,188.0 L493.8,188.1 L492.6,188.2 L491.3,188.1 L490.1,188.1 L489.0,188.3 L487.9,188.7 L486.6,189.3 L485.3,189.7 L483.9,189.9 L482.6,190.1 L481.3,190.0 L480.1,190.3 L478.9,190.7 L477.9,191.6 L476.8,192.0 L475.7,192.3 L474.5,192.2 L473.5,192.3 L471.9,192.2 L470.4,191.9 L469.0,191.9 L467.6,192.1 L466.3,192.0 L465.1,192.0 L464.1,192.2 L463.1,192.3 L460.6,191.3Z" fill="#c3bbea" opacity="0.86"/>
<g clip-path="url(#cl6)">
<path d="M489.1,180.7C488.7,179.5 498.2,176.2 502.7,173.9C507.3,171.6 511.9,168.8 516.4,167.1C520.9,165.4 525.4,164.3 529.9,163.8C534.4,163.2 541.1,163.0 543.5,163.8C546.0,164.5 545.8,166.2 544.6,168.3C543.5,170.4 540.7,174.3 536.7,176.2C532.8,178.1 526.2,178.8 520.9,179.6C515.6,180.5 510.3,181.0 505.1,181.2C499.8,181.4 489.5,181.9 489.1,180.7Z" fill="#d4c0ec" opacity="0.9" filter="url(#fb30)"/>
<path d="M492.0,180.0C491.6,178.9 500.3,175.9 504.4,173.8C508.5,171.7 512.7,169.1 516.8,167.6C520.9,166.1 525.0,165.1 529.1,164.6C533.2,164.1 539.3,163.9 541.5,164.6C543.7,165.3 543.5,166.8 542.5,168.7C541.5,170.6 538.9,174.2 535.3,175.9C531.7,177.6 525.7,178.2 520.9,179.0C516.1,179.8 511.3,180.2 506.5,180.4C501.7,180.6 492.4,181.1 492.0,180.0Z" fill="#dcc4ec" opacity="0.9" filter="url(#fb25)"/>
<path d="M505.4,176.2C505.4,174.7 514.4,169.7 519.3,167.8C524.1,166.0 531.1,165.0 534.5,165.0C538.0,165.0 540.1,166.4 540.1,167.8C540.1,169.2 538.0,171.8 534.5,173.4C531.1,174.9 524.1,176.5 519.3,177.0C514.4,177.5 505.4,177.7 505.4,176.2Z" fill="#ead6dc" opacity="0.95" filter="url(#fb25)"/>
<path d="M510.6,174.9C510.6,173.8 517.3,170.1 520.9,168.7C524.5,167.3 529.6,166.6 532.2,166.6C534.8,166.6 536.3,167.7 536.3,168.7C536.3,169.7 534.8,171.7 532.2,172.8C529.6,173.9 524.5,175.2 520.9,175.5C517.3,175.8 510.6,176.0 510.6,174.9Z" fill="#f4eeb8" opacity="1" filter="url(#fb20)"/>
<path d="M516.6,173.4C516.6,172.7 520.6,170.5 522.7,169.7C524.9,168.9 528.0,168.4 529.5,168.4C531.1,168.4 532.0,169.1 532.0,169.7C532.0,170.3 531.1,171.5 529.5,172.2C528.0,172.8 524.9,173.6 522.7,173.8C520.6,174.0 516.6,174.1 516.6,173.4Z" fill="#f6f4b2" opacity="1" filter="url(#fb16)"/>
</g>
<path d="M461.2,189.3 L462.0,189.1 L462.9,188.9 L463.6,188.3 L464.7,187.8 L465.9,187.4 L466.8,186.4 L467.9,185.4 L469.2,184.8 L470.4,184.1 L471.7,183.5 L472.5,182.7 L473.5,182.0 L474.6,181.5 L475.9,181.5 L477.1,181.0 L478.2,180.4 L479.6,180.2 L480.6,179.3 L481.6,178.5 L482.7,177.8 L483.9,177.4 L484.9,176.6 L486.1,176.2 L487.1,175.5 L488.1,174.6 L489.1,173.8 L490.1,173.2 L491.1,172.5 L492.1,171.7 L493.1,171.0 L494.4,170.7 L495.4,170.1 L496.2,169.2 L497.2,168.3 L498.3,167.9 L499.3,167.2 L500.3,166.4 L501.5,166.2 L502.6,165.9 L503.7,165.2 L504.7,164.5 L505.9,164.3 L506.9,163.4 L508.1,163.1 L509.1,162.3 L510.1,161.7 L511.3,161.2 L512.4,160.9 L513.5,160.3 L514.8,160.0 L516.0,159.5 L517.2,159.3 L518.4,158.8 L519.7,158.6 L521.0,158.6 L522.2,158.2 L523.3,157.7 L524.6,157.7 L525.8,157.5 L526.9,157.0 L528.2,156.7 L529.4,156.7 L530.7,156.9 L532.0,157.0 L533.2,157.1 L534.5,157.5 L535.7,157.7 L537.0,157.4 L538.2,157.2 L539.3,157.5 L540.5,157.5 L541.5,157.6 L543.0,158.1 L544.5,158.6 L545.9,159.0 L547.2,159.3 L548.5,159.6 L549.7,159.9 L550.8,160.2 L551.8,160.4 L552.8,161.4 L553.6,162.4 L554.2,163.4 L554.7,164.4 L554.4,165.6 L554.3,166.6 L554.1,167.8 L553.4,169.0 L552.2,170.0 L551.4,171.3 L550.1,172.2 L549.4,173.0 L548.7,173.8 L547.9,174.5 L547.0,175.3 L546.2,176.3 L545.0,176.7 L543.8,177.2 L542.7,178.1 L541.3,178.6 L540.4,178.9 L539.4,179.3 L538.4,179.6 L537.2,179.9 L536.1,180.2 L535.1,181.1 L533.8,181.3 L532.7,181.8 L531.4,181.9 L530.1,182.1 L528.7,181.8 L527.4,182.1 L526.1,182.1 L524.9,182.6 L523.8,183.2 L522.7,183.8 L521.6,184.5 L520.3,184.8 L519.2,185.4 L518.0,185.7 L516.6,185.4 L515.3,185.1 L514.0,185.3 L512.8,185.5 L511.5,185.3 L510.2,185.6 L509.0,186.2 L507.8,186.3 L506.5,186.1 L505.3,186.5 L504.0,186.8 L502.6,186.2 L501.3,186.2 L500.1,186.6 L498.7,186.4 L497.5,186.8 L496.3,187.5 L495.1,188.0 L493.8,188.1 L492.6,188.2 L491.3,188.1 L490.1,188.1 L489.0,188.3 L487.9,188.7 L486.6,189.3 L485.3,189.7 L483.9,189.9 L482.6,190.1 L481.3,190.0 L480.1,190.3 L478.9,190.7 L477.9,191.6 L476.8,192.0 L475.7,192.3 L474.5,192.2 L473.5,192.3 L471.9,192.2 L470.4,191.9 L469.0,191.9 L467.6,192.1 L466.3,192.0 L465.1,192.0 L464.1,192.2 L463.1,192.3 L460.6,191.3Z" fill="none" stroke="#7a74a6" stroke-width="0.55" stroke-opacity="0.8"/>
<path d="M492.2,180.0 L492.2,179.7 L492.7,179.4 L493.6,179.0 L494.6,178.3 L495.8,177.6 L497.2,176.9 L498.7,176.1 L500.0,175.1 L501.6,174.5 L502.9,173.9 L504.2,173.4 L505.4,173.0 L506.6,172.6 L507.8,172.1 L509.0,171.6 L510.0,170.7 L511.1,170.0 L512.1,169.3 L513.1,168.5 L514.2,167.8 L515.4,167.5 L516.6,167.2 L517.8,166.6 L519.2,166.5 L520.6,166.6 L521.8,166.5 L523.0,165.9 L524.3,166.1 L525.5,165.7 L526.7,165.3 L527.9,164.7 L529.1,164.9 L530.4,164.5 L531.8,164.4 L533.2,164.1 L534.6,164.2 L536.0,164.0 L537.4,164.0 L538.6,164.0 L539.8,164.1 L540.7,164.3 L541.6,164.4 L543.0,165.5 L543.1,166.9 L542.2,168.6 L541.8,169.3 L541.2,170.2 L540.9,171.5 L540.0,172.5 L539.1,173.6 L538.0,174.6 L536.8,175.4 L535.3,175.9 L534.4,176.4 L533.4,177.0 L532.3,177.4 L531.1,177.6 L529.9,178.0 L528.6,178.0 L527.2,177.8 L525.9,178.1 L524.7,178.6 L523.4,178.8 L522.2,179.1 L520.9,179.1 L519.7,179.0 L518.5,179.0 L517.2,179.0 L516.1,179.3 L514.9,179.8 L513.7,180.0 L512.5,180.1 L511.3,180.3 L510.1,180.0 L508.9,180.2 L507.7,180.2 L506.5,180.2 L505.2,180.1 L503.8,180.2 L502.2,180.2 L500.7,180.2 L499.1,180.4 L497.6,180.7 L496.1,180.8 L494.8,180.8 L493.7,180.7 L492.9,180.2 L492.4,180.0ZM510.7,174.9 L510.9,174.6 L511.4,174.0 L512.2,173.4 L513.1,172.5 L514.4,172.0 L515.8,171.3 L517.2,170.7 L518.6,170.0 L520.0,169.7 L521.0,169.0 L522.3,168.6 L523.6,168.3 L525.0,168.0 L526.3,167.5 L527.7,167.3 L528.9,166.8 L530.1,166.4 L531.2,166.3 L532.2,166.3 L534.5,166.5 L535.9,167.6 L536.2,168.7 L536.0,169.6 L535.1,170.6 L533.8,171.7 L532.2,172.8 L531.3,173.2 L530.1,173.5 L528.9,174.0 L527.6,174.4 L526.3,174.6 L524.9,175.1 L523.5,175.3 L522.2,175.5 L520.9,175.7 L519.4,175.9 L517.8,176.1 L516.1,176.1 L514.4,176.2 L512.9,175.9 L511.7,175.6 L510.9,175.3Z" fill="none" stroke="#8d7aa6" stroke-width="0.5" stroke-opacity="0.7"/>
<g opacity="0.15"><path d="M56.42,161.55L47.52,24.24M64.97,159.30L56.75,23.71M73.30,157.11L65.72,23.19M81.43,154.97L74.47,22.68M89.36,152.88L82.98,22.19M97.09,150.85L91.27,21.71M104.64,148.86L99.36,21.25M112.01,146.93L107.24,20.79M119.21,145.03L114.92,20.35M126.24,143.18L122.42,19.92M133.12,141.37L129.73,19.50M139.83,139.61L136.88,19.08M146.40,137.88L143.85,18.68M152.82,136.19L150.66,18.29M159.10,134.54L157.31,17.90M165.25,132.92L163.81,17.53M171.26,131.34L170.17,17.16M173.08,26.18L40.28,36.04M173.14,33.76L40.92,45.38M173.20,41.28L41.55,54.64M173.26,48.75L42.18,63.82M173.33,56.17L42.80,72.93M173.39,63.54L43.42,81.96M173.45,70.87L44.03,90.92M173.51,78.14L44.64,99.80M173.57,85.36L45.24,108.61M173.63,92.54L45.84,117.35M173.69,99.67L46.43,126.01M173.74,106.75L47.02,134.61M173.80,113.79L47.61,143.13M173.86,120.78L48.18,151.59M173.92,127.72L48.76,159.98M179.21,132.74L178.65,17.58M190.05,137.07L190.31,18.78M201.50,141.65L202.69,20.05M213.64,146.50L215.87,21.40M226.52,151.64L229.92,22.84M240.21,157.11L244.94,24.38M254.78,162.93L261.02,26.03M270.34,169.15L278.28,27.80M286.98,175.80L296.85,29.71M173.08,26.18L313.31,44.17M173.14,33.76L312.49,54.55M173.20,41.28L311.69,64.80M173.26,48.75L310.90,74.92M173.33,56.17L310.11,84.91M173.39,63.54L309.34,94.78M173.45,70.87L308.57,104.52M173.51,78.14L307.82,114.14M173.57,85.36L307.08,123.64M173.63,92.54L306.34,133.03M173.69,99.67L305.61,142.31M173.74,106.75L304.89,151.47M173.80,113.79L304.18,160.52M173.86,120.78L303.48,169.46M173.92,127.72L302.79,178.30" stroke="#fff" stroke-width="0.65" fill="none"/><path transform="translate(346.3,0)" d="M56.42,161.55L47.52,24.24M64.97,159.30L56.75,23.71M73.30,157.11L65.72,23.19M81.43,154.97L74.47,22.68M89.36,152.88L82.98,22.19M97.09,150.85L91.27,21.71M104.64,148.86L99.36,21.25M112.01,146.93L107.24,20.79M119.21,145.03L114.92,20.35M126.24,143.18L122.42,19.92M133.12,141.37L129.73,19.50M139.83,139.61L136.88,19.08M146.40,137.88L143.85,18.68M152.82,136.19L150.66,18.29M159.10,134.54L157.31,17.90M165.25,132.92L163.81,17.53M171.26,131.34L170.17,17.16M173.08,26.18L40.28,36.04M173.14,33.76L40.92,45.38M173.20,41.28L41.55,54.64M173.26,48.75L42.18,63.82M173.33,56.17L42.80,72.93M173.39,63.54L43.42,81.96M173.45,70.87L44.03,90.92M173.51,78.14L44.64,99.80M173.57,85.36L45.24,108.61M173.63,92.54L45.84,117.35M173.69,99.67L46.43,126.01M173.74,106.75L47.02,134.61M173.80,113.79L47.61,143.13M173.86,120.78L48.18,151.59M173.92,127.72L48.76,159.98M179.21,132.74L178.65,17.58M190.05,137.07L190.31,18.78M201.50,141.65L202.69,20.05M213.64,146.50L215.87,21.40M226.52,151.64L229.92,22.84M240.21,157.11L244.94,24.38M254.78,162.93L261.02,26.03M270.34,169.15L278.28,27.80M286.98,175.80L296.85,29.71M173.08,26.18L313.31,44.17M173.14,33.76L312.49,54.55M173.20,41.28L311.69,64.80M173.26,48.75L310.90,74.92M173.33,56.17L310.11,84.91M173.39,63.54L309.34,94.78M173.45,70.87L308.57,104.52M173.51,78.14L307.82,114.14M173.57,85.36L307.08,123.64M173.63,92.54L306.34,133.03M173.69,99.67L305.61,142.31M173.74,106.75L304.89,151.47M173.80,113.79L304.18,160.52M173.86,120.78L303.48,169.46M173.92,127.72L302.79,178.30" stroke="#fff" stroke-width="0.65" fill="none"/></g>
<g transform="translate(0,0)">
<text transform="translate(1.2,43) rotate(90)" font-size="9.4" fill="#222">Increasing geostrophic shear</text>
<path d="M14.8,134 L14.6,78.5 M12.6,83.5 L14.6,78.5 L16.6,83.5" stroke="#888" stroke-width="0.7" fill="none"/>
<text transform="translate(22.4,94) rotate(90)" font-size="8.8" fill="#222">h/L<tspan dy="2" font-size="6">s</tspan></text>
<text transform="translate(23.5,191) rotate(38.5)" font-size="9.6" fill="#222">Increasing wind force</text>
<path d="M88.3,226.9 L46.4,194 M48.2,198.8 L46.4,194 L51.4,194.9" stroke="#888" stroke-width="0.7" fill="none"/>
<text transform="translate(66.5,199.8) rotate(48)" font-size="9.3" fill="#222">La<tspan dy="2.2" font-size="6">t</tspan></text>
<text transform="translate(206.5,265.8) rotate(-23.3)" font-size="9.4" fill="#222">Increasing buoyancy convection</text>
<path d="M236.8,238.2 L286.7,218.7 M281.6,218.2 L286.7,218.7 L283,222.4" stroke="#888" stroke-width="0.7" fill="none"/>
<text transform="translate(249.5,229) rotate(-17)" font-size="8.8" fill="#222">h/L<tspan dy="2" font-size="6">L</tspan></text>
<g font-weight="bold" font-size="9.2" fill="#111">
<text x="115.5" y="32.8">GSP</text>
<text x="228" y="36.4">GSP</text>
<text transform="translate(61.2,163.3) rotate(-12)">AGSP</text>
<text x="149.4" y="234.6">LSP</text>
<text transform="translate(276.8,187.8) rotate(-9)">VBP</text>
</g>
</g>
<g transform="translate(346.3,0)">
<text transform="translate(1.2,43) rotate(90)" font-size="9.4" fill="#222">Increasing geostrophic shear</text>
<path d="M14.8,134 L14.6,78.5 M12.6,83.5 L14.6,78.5 L16.6,83.5" stroke="#888" stroke-width="0.7" fill="none"/>
<text transform="translate(22.4,94) rotate(90)" font-size="8.8" fill="#222">h/L<tspan dy="2" font-size="6">s</tspan></text>
<text transform="translate(23.5,191) rotate(38.5)" font-size="9.6" fill="#222">Increasing wind force</text>
<path d="M88.3,226.9 L46.4,194 M48.2,198.8 L46.4,194 L51.4,194.9" stroke="#888" stroke-width="0.7" fill="none"/>
<text transform="translate(66.5,199.8) rotate(48)" font-size="9.3" fill="#222">La<tspan dy="2.2" font-size="6">t</tspan></text>
<text transform="translate(206.5,265.8) rotate(-23.3)" font-size="9.4" fill="#222">Increasing buoyancy convection</text>
<path d="M236.8,238.2 L286.7,218.7 M281.6,218.2 L286.7,218.7 L283,222.4" stroke="#888" stroke-width="0.7" fill="none"/>
<text transform="translate(249.5,229) rotate(-17)" font-size="8.8" fill="#222">h/L<tspan dy="2" font-size="6">L</tspan></text>
<g font-weight="bold" font-size="9.2" fill="#111">
<text x="115.5" y="32.8">GSP</text>
<text x="228" y="36.4">GSP</text>
<text transform="translate(61.2,163.3) rotate(-12)">AGSP</text>
<text x="149.4" y="234.6">LSP</text>
<text transform="translate(276.8,187.8) rotate(-9)">VBP</text>
</g>
</g>
<path d="M407,29.2 L410.9,29.2 L415.3,96.4 L411.5,96.4 Z" fill="url(#cbv)"/>
<text x="405.90" y="32.5" text-anchor="end" font-size="6.6">0.01</text>
<text x="406.85" y="46.6" text-anchor="end" font-size="6.6">0.008</text>
<text x="407.81" y="60.6" text-anchor="end" font-size="6.6">0.006</text>
<text x="408.81" y="75.3" text-anchor="end" font-size="6.6">0.004</text>
<text x="409.76" y="89.3" text-anchor="end" font-size="6.6">0.002</text>
<text x="410.39" y="98.5" text-anchor="end" font-size="6.6">0</text>
<path d="M623.3,73.7 L626.8,73.7 L624.0,141 L620.5,141 Z" fill="url(#cbv)"/>
<text x="627.60" y="76.9" font-size="6.7">0.06</text>
<text x="627.08" y="88.6" font-size="6.7">0.05</text>
<text x="626.59" y="99.5" font-size="6.7">0.04</text>
<text x="626.07" y="110.9" font-size="6.7">0.03</text>
<text x="625.56" y="122.4" font-size="6.7">0.02</text>
<text x="625.06" y="133.5" font-size="6.7">0.01</text>
<text x="624.60" y="143.7" font-size="6.7">0</text>
<rect x="663.3" y="73.8" width="3" height="68.4" fill="url(#cbv)"/>
<text x="667.5" y="76.8" font-size="6.6">0.006</text>
<text x="667.5" y="88.9" font-size="6.6">0.005</text>
<text x="667.5" y="100.0" font-size="6.6">0.004</text>
<text x="667.5" y="111.8" font-size="6.6">0.003</text>
<text x="667.5" y="123.6" font-size="6.6">0.002</text>
<text x="667.5" y="135.0" font-size="6.6">0.001</text>
<text x="667.5" y="144.6" font-size="6.6">0</text>
<g transform="translate(506,202.7) rotate(-19.06)"><rect x="0" y="-1.5" width="67.4" height="3.2" fill="url(#cbh)"/></g>
<text transform="translate(508.1,204.6) rotate(57)" x="0" y="4.6" font-size="6.4">0</text>
<text transform="translate(519.1,200.2) rotate(57)" x="0" y="4.6" font-size="6.4">0.01</text>
<text transform="translate(532.7,195.2) rotate(57)" x="0" y="4.6" font-size="6.4">0.02</text>
<text transform="translate(545.5,190.7) rotate(57)" x="0" y="4.6" font-size="6.4">0.03</text>
<text transform="translate(558.2,186.2) rotate(57)" x="0" y="4.6" font-size="6.4">0.04</text>
<text transform="translate(571.8,181) rotate(57)" x="0" y="4.6" font-size="6.4">0.05</text>
</svg>
</body></html>
